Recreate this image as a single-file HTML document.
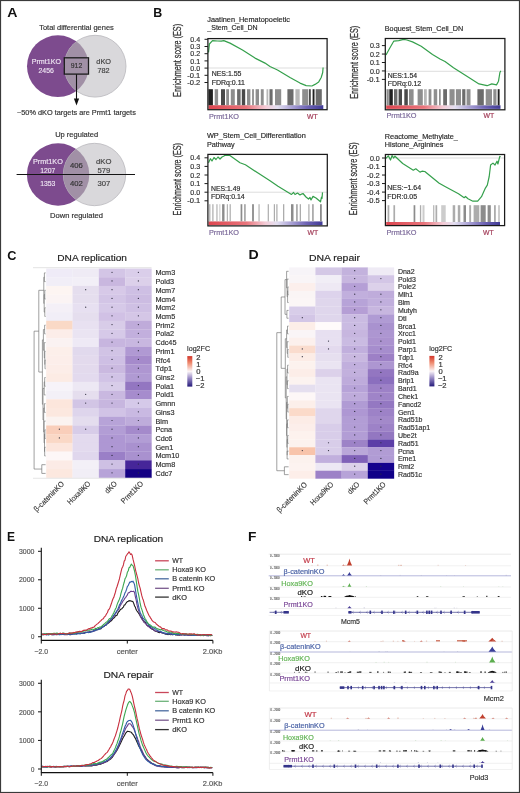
<!DOCTYPE html>
<html><head><meta charset="utf-8"><style>
html,body{margin:0;padding:0;background:#fff;}
body{width:520px;height:793px;overflow:hidden;position:relative;}
svg{position:absolute;left:0;top:0;display:block;filter:blur(0.3px);}
svg text{font-family:"Liberation Sans", sans-serif;}
</style></head><body>
<svg width="520" height="793" viewBox="0 0 520 793">
<rect x="0" y="0" width="520" height="793" fill="#ffffff"/>
<text x="7.20" y="16.50" font-size="13.3" fill="#111" font-weight="bold" textLength="10.20" lengthAdjust="spacingAndGlyphs">A</text>
<text x="153.30" y="16.80" font-size="13.3" fill="#111" font-weight="bold" textLength="9.00" lengthAdjust="spacingAndGlyphs">B</text>
<text x="7.30" y="259.50" font-size="13.3" fill="#111" font-weight="bold" textLength="9.20" lengthAdjust="spacingAndGlyphs">C</text>
<text x="248.40" y="259.40" font-size="13.3" fill="#111" font-weight="bold" textLength="10.20" lengthAdjust="spacingAndGlyphs">D</text>
<text x="7.00" y="540.80" font-size="13.3" fill="#111" font-weight="bold" textLength="8.00" lengthAdjust="spacingAndGlyphs">E</text>
<text x="248.00" y="540.80" font-size="13.3" fill="#111" font-weight="bold" textLength="8.40" lengthAdjust="spacingAndGlyphs">F</text>
<text x="39.20" y="29.80" font-size="7.8" fill="#333" textLength="74.60" lengthAdjust="spacingAndGlyphs" stroke="#333" stroke-width="0.18">Total differential genes</text>
<circle cx="57.9" cy="66.2" r="30.9" fill="#7d4b8e"/>
<circle cx="95.1" cy="66.2" r="30.9" fill="#d9d8db" stroke="#b9b8bc" stroke-width="0.8"/>
<clipPath id="c66"><circle cx="57.9" cy="66.2" r="30.9"/></clipPath>
<circle cx="95.1" cy="66.2" r="30.9" fill="#a190a6" clip-path="url(#c66)"/>
<text x="31.70" y="64.20" font-size="7.2" fill="#efe6f3" textLength="29.30" lengthAdjust="spacingAndGlyphs" stroke="#efe6f3" stroke-width="0.144">Prmt1KO</text>
<text x="38.50" y="73.00" font-size="7.2" fill="#efe6f3" textLength="15.30" lengthAdjust="spacingAndGlyphs" stroke="#efe6f3" stroke-width="0.144">2456</text>
<rect x="64.3" y="57.8" width="24.2" height="16.3" fill="none" stroke="#1c1c1c" stroke-width="1.3"/>
<text x="70.80" y="68.40" font-size="7.2" fill="#333" textLength="11.40" lengthAdjust="spacingAndGlyphs" stroke="#333" stroke-width="0.18">912</text>
<text x="96.30" y="64.20" font-size="7.2" fill="#444" textLength="14.70" lengthAdjust="spacingAndGlyphs" stroke="#444" stroke-width="0.18">dKO</text>
<text x="97.40" y="73.00" font-size="7.2" fill="#444" textLength="12.10" lengthAdjust="spacingAndGlyphs" stroke="#444" stroke-width="0.18">782</text>
<line x1="76.50" y1="74.30" x2="76.50" y2="99.50" stroke="#111" stroke-width="1.1"/>
<polygon points="73.9,98.6 79.1,98.6 76.5,105.6" fill="#111"/>
<text x="17.00" y="114.80" font-size="7.4" fill="#333" textLength="118.80" lengthAdjust="spacingAndGlyphs" stroke="#333" stroke-width="0.18">~50% dKO targets are Prmt1 targets</text>
<text x="55.20" y="137.00" font-size="7.4" fill="#333" textLength="43.00" lengthAdjust="spacingAndGlyphs" stroke="#333" stroke-width="0.18">Up regulated</text>
<circle cx="58.1" cy="174.5" r="31.2" fill="#7d4b8e"/>
<circle cx="94.5" cy="174.5" r="31.2" fill="#d9d8db" stroke="#b9b8bc" stroke-width="0.8"/>
<clipPath id="c174"><circle cx="58.1" cy="174.5" r="31.2"/></clipPath>
<circle cx="94.5" cy="174.5" r="31.2" fill="#a190a6" clip-path="url(#c174)"/>
<line x1="16.60" y1="174.50" x2="135.00" y2="174.50" stroke="#151515" stroke-width="1.15"/>
<text x="32.90" y="163.50" font-size="7.2" fill="#efe6f3" textLength="30.00" lengthAdjust="spacingAndGlyphs" stroke="#efe6f3" stroke-width="0.144">Prmt1KO</text>
<text x="40.20" y="172.60" font-size="7.2" fill="#efe6f3" textLength="15.20" lengthAdjust="spacingAndGlyphs" stroke="#efe6f3" stroke-width="0.144">1207</text>
<text x="76.30" y="167.60" font-size="7.7" fill="#333" text-anchor="middle" stroke="#333" stroke-width="0.18">406</text>
<text x="103.80" y="164.40" font-size="7.7" fill="#444" text-anchor="middle" stroke="#444" stroke-width="0.18">dKO</text>
<text x="103.80" y="172.60" font-size="7.7" fill="#444" text-anchor="middle" stroke="#444" stroke-width="0.18">579</text>
<text x="40.20" y="186.00" font-size="7.2" fill="#efe6f3" textLength="15.20" lengthAdjust="spacingAndGlyphs" stroke="#efe6f3" stroke-width="0.144">1353</text>
<text x="76.30" y="186.40" font-size="7.7" fill="#333" text-anchor="middle" stroke="#333" stroke-width="0.18">402</text>
<text x="103.80" y="186.40" font-size="7.7" fill="#444" text-anchor="middle" stroke="#444" stroke-width="0.18">307</text>
<text x="50.00" y="217.60" font-size="7.4" fill="#333" textLength="53.00" lengthAdjust="spacingAndGlyphs" stroke="#333" stroke-width="0.18">Down regulated</text>
<line x1="207.90" y1="68.00" x2="327.10" y2="68.00" stroke="#cfcfcf" stroke-width="0.7"/>
<linearGradient id="g1" x1="0" x2="1" y1="0" y2="0"><stop offset="0" stop-color="#dd4650"/><stop offset="0.33" stop-color="#e9747b"/><stop offset="0.5" stop-color="#f4ccd7"/><stop offset="0.6" stop-color="#e3dff1"/><stop offset="0.72" stop-color="#aca4d6"/><stop offset="0.86" stop-color="#6e64b4"/><stop offset="1" stop-color="#403a96"/></linearGradient>
<rect x="208.50" y="105.20" width="114.80" height="3.90" fill="url(#g1)"/>
<rect x="208.40" y="89.20" width="4.50" height="16.00" fill="#202020"/>
<rect x="214.70" y="89.20" width="3.40" height="16.00" fill="#8e8e8e"/>
<rect x="221.00" y="89.20" width="4.00" height="16.00" fill="#4a4a4a"/>
<rect x="226.20" y="89.20" width="2.80" height="16.00" fill="#8e8e8e"/>
<rect x="230.80" y="89.20" width="4.00" height="16.00" fill="#8e8e8e"/>
<rect x="237.10" y="89.20" width="3.50" height="16.00" fill="#6c6c6c"/>
<rect x="241.80" y="89.20" width="3.40" height="16.00" fill="#4a4a4a"/>
<rect x="247.00" y="89.20" width="3.40" height="16.00" fill="#8e8e8e"/>
<rect x="252.10" y="89.20" width="1.80" height="16.00" fill="#8e8e8e"/>
<rect x="255.60" y="89.20" width="3.40" height="16.00" fill="#8e8e8e"/>
<rect x="260.80" y="89.20" width="2.90" height="16.00" fill="#8e8e8e"/>
<rect x="266.50" y="89.20" width="1.80" height="16.00" fill="#b8b8b8"/>
<rect x="269.50" y="89.20" width="3.10" height="16.00" fill="#6c6c6c"/>
<rect x="275.00" y="89.20" width="6.20" height="16.00" fill="#8e8e8e"/>
<rect x="287.40" y="89.20" width="6.10" height="16.00" fill="#6c6c6c"/>
<rect x="295.40" y="89.20" width="4.30" height="16.00" fill="#b8b8b8"/>
<rect x="302.20" y="89.20" width="6.10" height="16.00" fill="#8e8e8e"/>
<rect x="309.00" y="89.20" width="1.80" height="16.00" fill="#4a4a4a"/>
<rect x="312.60" y="89.20" width="1.90" height="16.00" fill="#202020"/>
<rect x="315.70" y="89.20" width="6.10" height="16.00" fill="#6c6c6c"/>
<polyline points="208.50,52.50 209.40,44.00 212.50,40.60 217.50,41.00 221.20,41.20 223.80,40.60 230.00,43.10 242.50,50.00 255.00,58.10 265.00,63.10 270.00,66.50 277.50,70.00 290.00,77.50 300.00,83.10 306.20,85.60 311.90,86.00 315.00,84.40 318.70,81.90 321.20,77.50 322.70,72.50 323.10,67.50" fill="none" stroke="#35a04c" stroke-width="1.2" stroke-linejoin="round"/>
<rect x="207.90" y="38.60" width="119.20" height="71.10" fill="none" stroke="#1a1a1a" stroke-width="1.25"/>
<line x1="204.50" y1="39.30" x2="207.90" y2="39.30" stroke="#1a1a1a" stroke-width="1.0"/>
<text x="200.20" y="41.90" font-size="7.3" fill="#333" text-anchor="end" textLength="9.90" lengthAdjust="spacingAndGlyphs" stroke="#333" stroke-width="0.18">0.4</text>
<line x1="204.50" y1="46.50" x2="207.90" y2="46.50" stroke="#1a1a1a" stroke-width="1.0"/>
<text x="200.20" y="49.10" font-size="7.3" fill="#333" text-anchor="end" textLength="9.90" lengthAdjust="spacingAndGlyphs" stroke="#333" stroke-width="0.18">0.3</text>
<line x1="204.50" y1="53.70" x2="207.90" y2="53.70" stroke="#1a1a1a" stroke-width="1.0"/>
<text x="200.20" y="56.30" font-size="7.3" fill="#333" text-anchor="end" textLength="9.90" lengthAdjust="spacingAndGlyphs" stroke="#333" stroke-width="0.18">0.2</text>
<line x1="204.50" y1="60.90" x2="207.90" y2="60.90" stroke="#1a1a1a" stroke-width="1.0"/>
<text x="200.20" y="63.50" font-size="7.3" fill="#333" text-anchor="end" textLength="9.90" lengthAdjust="spacingAndGlyphs" stroke="#333" stroke-width="0.18">0.1</text>
<line x1="204.50" y1="68.10" x2="207.90" y2="68.10" stroke="#1a1a1a" stroke-width="1.0"/>
<text x="200.20" y="70.70" font-size="7.3" fill="#333" text-anchor="end" textLength="9.90" lengthAdjust="spacingAndGlyphs" stroke="#333" stroke-width="0.18">0.0</text>
<line x1="204.50" y1="75.30" x2="207.90" y2="75.30" stroke="#1a1a1a" stroke-width="1.0"/>
<text x="200.20" y="77.90" font-size="7.3" fill="#333" text-anchor="end" textLength="13.00" lengthAdjust="spacingAndGlyphs" stroke="#333" stroke-width="0.18">-0.1</text>
<line x1="204.50" y1="82.50" x2="207.90" y2="82.50" stroke="#1a1a1a" stroke-width="1.0"/>
<text x="200.20" y="85.10" font-size="7.3" fill="#333" text-anchor="end" textLength="13.00" lengthAdjust="spacingAndGlyphs" stroke="#333" stroke-width="0.18">-0.2</text>
<text x="207.30" y="21.90" font-size="7.5" fill="#2a2a2a" textLength="82.70" lengthAdjust="spacingAndGlyphs" stroke="#2a2a2a" stroke-width="0.18">Jaatinen_Hematopoeietic</text>
<text x="207.30" y="30.20" font-size="7.5" fill="#2a2a2a" textLength="50.40" lengthAdjust="spacingAndGlyphs" stroke="#2a2a2a" stroke-width="0.18">_Stem_Cell_DN</text>
<text x="211.70" y="76.30" font-size="7.2" fill="#2a2a2a" textLength="29.80" lengthAdjust="spacingAndGlyphs" stroke="#2a2a2a" stroke-width="0.18">NES:1.55</text>
<text x="211.70" y="84.70" font-size="7.2" fill="#2a2a2a" textLength="33.20" lengthAdjust="spacingAndGlyphs" stroke="#2a2a2a" stroke-width="0.18">FDRq:0.11</text>
<text transform="translate(180.90,60.40) rotate(-90)" x="0" y="0" font-size="10" fill="#383838" stroke="#383838" stroke-width="0.3" text-anchor="middle" textLength="73" lengthAdjust="spacingAndGlyphs">Enrichment score (ES)</text>
<text x="209.00" y="118.50" font-size="6.9" fill="#7d6b9b" textLength="30.00" lengthAdjust="spacingAndGlyphs" stroke="#7d6b9b" stroke-width="0.18">Prmt1KO</text>
<text x="307.00" y="118.50" font-size="6.9" fill="#a23c58" textLength="10.70" lengthAdjust="spacingAndGlyphs" stroke="#a23c58" stroke-width="0.18">WT</text>
<line x1="385.30" y1="71.30" x2="504.90" y2="71.30" stroke="#cfcfcf" stroke-width="0.7"/>
<linearGradient id="g2" x1="0" x2="1" y1="0" y2="0"><stop offset="0" stop-color="#dd4650"/><stop offset="0.33" stop-color="#e9747b"/><stop offset="0.5" stop-color="#f4ccd7"/><stop offset="0.6" stop-color="#e3dff1"/><stop offset="0.72" stop-color="#aca4d6"/><stop offset="0.86" stop-color="#6e64b4"/><stop offset="1" stop-color="#403a96"/></linearGradient>
<rect x="386.20" y="105.30" width="114.30" height="3.60" fill="url(#g2)"/>
<rect x="386.50" y="89.20" width="2.30" height="16.10" fill="#8e8e8e"/>
<rect x="389.30" y="89.20" width="3.50" height="16.10" fill="#202020"/>
<rect x="394.00" y="89.20" width="3.40" height="16.10" fill="#6c6c6c"/>
<rect x="398.60" y="89.20" width="3.40" height="16.10" fill="#4a4a4a"/>
<rect x="404.30" y="89.20" width="3.50" height="16.10" fill="#4a4a4a"/>
<rect x="409.00" y="89.20" width="4.60" height="16.10" fill="#8e8e8e"/>
<rect x="417.60" y="89.20" width="5.20" height="16.10" fill="#8e8e8e"/>
<rect x="424.00" y="89.20" width="2.80" height="16.10" fill="#b8b8b8"/>
<rect x="428.60" y="89.20" width="2.80" height="16.10" fill="#8e8e8e"/>
<rect x="433.70" y="89.20" width="3.50" height="16.10" fill="#8e8e8e"/>
<rect x="439.00" y="89.20" width="1.70" height="16.10" fill="#8e8e8e"/>
<rect x="443.20" y="89.20" width="3.80" height="16.10" fill="#6c6c6c"/>
<rect x="449.50" y="89.20" width="5.10" height="16.10" fill="#8e8e8e"/>
<rect x="455.90" y="89.20" width="5.10" height="16.10" fill="#8e8e8e"/>
<rect x="462.20" y="89.20" width="3.20" height="16.10" fill="#6c6c6c"/>
<rect x="466.60" y="89.20" width="3.90" height="16.10" fill="#8e8e8e"/>
<rect x="477.40" y="89.20" width="6.40" height="16.10" fill="#6c6c6c"/>
<rect x="485.70" y="89.20" width="6.30" height="16.10" fill="#8e8e8e"/>
<rect x="493.30" y="89.20" width="3.20" height="16.10" fill="#8e8e8e"/>
<rect x="497.70" y="89.20" width="1.90" height="16.10" fill="#202020"/>
<polyline points="386.00,55.00 389.40,48.70 393.70,41.20 398.70,40.60 403.70,39.40 406.90,40.00 412.50,41.90 421.20,46.20 432.50,54.40 440.00,59.00 445.00,61.50 453.50,67.80 466.90,76.30 479.00,83.90 487.10,85.70 491.80,83.90 496.50,84.90 498.50,81.20 499.90,72.50 500.80,70.90" fill="none" stroke="#35a04c" stroke-width="1.2" stroke-linejoin="round"/>
<rect x="385.30" y="38.50" width="119.60" height="71.30" fill="none" stroke="#1a1a1a" stroke-width="1.25"/>
<line x1="381.90" y1="45.60" x2="385.30" y2="45.60" stroke="#1a1a1a" stroke-width="1.0"/>
<text x="379.80" y="48.20" font-size="7.3" fill="#333" text-anchor="end" textLength="9.90" lengthAdjust="spacingAndGlyphs" stroke="#333" stroke-width="0.18">0.3</text>
<line x1="381.90" y1="54.05" x2="385.30" y2="54.05" stroke="#1a1a1a" stroke-width="1.0"/>
<text x="379.80" y="56.65" font-size="7.3" fill="#333" text-anchor="end" textLength="9.90" lengthAdjust="spacingAndGlyphs" stroke="#333" stroke-width="0.18">0.2</text>
<line x1="381.90" y1="62.50" x2="385.30" y2="62.50" stroke="#1a1a1a" stroke-width="1.0"/>
<text x="379.80" y="65.10" font-size="7.3" fill="#333" text-anchor="end" textLength="9.90" lengthAdjust="spacingAndGlyphs" stroke="#333" stroke-width="0.18">0.1</text>
<line x1="381.90" y1="70.95" x2="385.30" y2="70.95" stroke="#1a1a1a" stroke-width="1.0"/>
<text x="379.80" y="73.55" font-size="7.3" fill="#333" text-anchor="end" textLength="9.90" lengthAdjust="spacingAndGlyphs" stroke="#333" stroke-width="0.18">0.0</text>
<line x1="381.90" y1="79.40" x2="385.30" y2="79.40" stroke="#1a1a1a" stroke-width="1.0"/>
<text x="379.80" y="82.00" font-size="7.3" fill="#333" text-anchor="end" textLength="13.00" lengthAdjust="spacingAndGlyphs" stroke="#333" stroke-width="0.18">-0.1</text>
<text x="384.80" y="30.60" font-size="7.5" fill="#2a2a2a" textLength="78.30" lengthAdjust="spacingAndGlyphs" stroke="#2a2a2a" stroke-width="0.18">Boquest_Stem_Cell_DN</text>
<text x="387.70" y="77.60" font-size="7.2" fill="#2a2a2a" textLength="29.40" lengthAdjust="spacingAndGlyphs" stroke="#2a2a2a" stroke-width="0.18">NES:1.54</text>
<text x="387.70" y="85.80" font-size="7.2" fill="#2a2a2a" textLength="33.40" lengthAdjust="spacingAndGlyphs" stroke="#2a2a2a" stroke-width="0.18">FDRq:0.12</text>
<text transform="translate(358.40,62.30) rotate(-90)" x="0" y="0" font-size="10" fill="#383838" stroke="#383838" stroke-width="0.3" text-anchor="middle" textLength="73" lengthAdjust="spacingAndGlyphs">Enrichment score (ES)</text>
<text x="386.50" y="118.30" font-size="6.9" fill="#7d6b9b" textLength="30.00" lengthAdjust="spacingAndGlyphs" stroke="#7d6b9b" stroke-width="0.18">Prmt1KO</text>
<text x="483.60" y="118.30" font-size="6.9" fill="#a23c58" textLength="10.70" lengthAdjust="spacingAndGlyphs" stroke="#a23c58" stroke-width="0.18">WT</text>
<line x1="207.90" y1="192.20" x2="327.30" y2="192.20" stroke="#cfcfcf" stroke-width="0.7"/>
<linearGradient id="g3" x1="0" x2="1" y1="0" y2="0"><stop offset="0" stop-color="#dd4650"/><stop offset="0.33" stop-color="#e9747b"/><stop offset="0.5" stop-color="#f4ccd7"/><stop offset="0.6" stop-color="#e3dff1"/><stop offset="0.72" stop-color="#aca4d6"/><stop offset="0.86" stop-color="#6e64b4"/><stop offset="1" stop-color="#403a96"/></linearGradient>
<rect x="208.50" y="221.40" width="114.00" height="3.80" fill="url(#g3)"/>
<rect x="209.20" y="204.20" width="1.20" height="17.20" fill="#acacac"/>
<rect x="212.30" y="204.20" width="1.20" height="17.20" fill="#acacac"/>
<rect x="216.40" y="204.20" width="1.10" height="17.20" fill="#acacac"/>
<rect x="219.30" y="204.20" width="1.10" height="17.20" fill="#cccccc"/>
<rect x="222.10" y="204.20" width="2.40" height="17.20" fill="#8c8c8c"/>
<rect x="226.80" y="204.20" width="1.10" height="17.20" fill="#acacac"/>
<rect x="229.60" y="204.20" width="1.20" height="17.20" fill="#acacac"/>
<rect x="240.60" y="204.20" width="1.70" height="17.20" fill="#8c8c8c"/>
<rect x="244.00" y="204.20" width="1.80" height="17.20" fill="#acacac"/>
<rect x="252.10" y="204.20" width="1.80" height="17.20" fill="#8c8c8c"/>
<rect x="258.50" y="204.20" width="1.10" height="17.20" fill="#acacac"/>
<rect x="267.70" y="204.20" width="1.20" height="17.20" fill="#acacac"/>
<rect x="273.80" y="204.20" width="1.20" height="17.20" fill="#acacac"/>
<rect x="276.30" y="204.20" width="1.20" height="17.20" fill="#acacac"/>
<rect x="283.00" y="204.20" width="1.30" height="17.20" fill="#acacac"/>
<rect x="291.00" y="204.20" width="2.50" height="17.20" fill="#8c8c8c"/>
<rect x="296.00" y="204.20" width="1.80" height="17.20" fill="#acacac"/>
<rect x="299.70" y="204.20" width="1.30" height="17.20" fill="#acacac"/>
<rect x="308.30" y="204.20" width="1.20" height="17.20" fill="#acacac"/>
<rect x="312.00" y="204.20" width="1.80" height="17.20" fill="#acacac"/>
<rect x="320.00" y="204.20" width="1.80" height="17.20" fill="#8c8c8c"/>
<polyline points="208.50,162.80 210.40,158.70 212.00,161.00 214.00,157.50 216.00,159.50 218.00,157.00 220.00,159.00 222.00,157.00 224.00,156.00 225.20,155.10 229.90,155.50 240.00,162.80 245.40,164.80 258.80,173.60 270.00,180.70 278.00,186.30 291.50,194.40 293.60,192.50 295.00,194.50 297.50,193.00 300.00,195.00 301.60,194.10 303.00,193.50 306.00,197.00 308.50,199.00 310.00,197.50 311.00,200.00 313.00,196.40 316.00,198.00 320.50,201.80 321.50,197.00 322.00,198.50 322.50,192.40" fill="none" stroke="#35a04c" stroke-width="1.2" stroke-linejoin="round"/>
<rect x="207.90" y="154.40" width="119.40" height="71.50" fill="none" stroke="#1a1a1a" stroke-width="1.25"/>
<line x1="204.50" y1="157.80" x2="207.90" y2="157.80" stroke="#1a1a1a" stroke-width="1.0"/>
<text x="200.20" y="160.40" font-size="7.3" fill="#333" text-anchor="end" textLength="9.90" lengthAdjust="spacingAndGlyphs" stroke="#333" stroke-width="0.18">0.4</text>
<line x1="204.50" y1="166.40" x2="207.90" y2="166.40" stroke="#1a1a1a" stroke-width="1.0"/>
<text x="200.20" y="169.00" font-size="7.3" fill="#333" text-anchor="end" textLength="9.90" lengthAdjust="spacingAndGlyphs" stroke="#333" stroke-width="0.18">0.3</text>
<line x1="204.50" y1="175.00" x2="207.90" y2="175.00" stroke="#1a1a1a" stroke-width="1.0"/>
<text x="200.20" y="177.60" font-size="7.3" fill="#333" text-anchor="end" textLength="9.90" lengthAdjust="spacingAndGlyphs" stroke="#333" stroke-width="0.18">0.2</text>
<line x1="204.50" y1="183.60" x2="207.90" y2="183.60" stroke="#1a1a1a" stroke-width="1.0"/>
<text x="200.20" y="186.20" font-size="7.3" fill="#333" text-anchor="end" textLength="9.90" lengthAdjust="spacingAndGlyphs" stroke="#333" stroke-width="0.18">0.1</text>
<line x1="204.50" y1="192.20" x2="207.90" y2="192.20" stroke="#1a1a1a" stroke-width="1.0"/>
<text x="200.20" y="194.80" font-size="7.3" fill="#333" text-anchor="end" textLength="9.90" lengthAdjust="spacingAndGlyphs" stroke="#333" stroke-width="0.18">0.0</text>
<line x1="204.50" y1="200.80" x2="207.90" y2="200.80" stroke="#1a1a1a" stroke-width="1.0"/>
<text x="200.20" y="203.40" font-size="7.3" fill="#333" text-anchor="end" textLength="13.00" lengthAdjust="spacingAndGlyphs" stroke="#333" stroke-width="0.18">-0.1</text>
<text x="206.90" y="138.40" font-size="7.5" fill="#2a2a2a" textLength="98.90" lengthAdjust="spacingAndGlyphs" stroke="#2a2a2a" stroke-width="0.18">WP_Stem_Cell_Differentiation</text>
<text x="206.90" y="146.50" font-size="7.5" fill="#2a2a2a" textLength="27.70" lengthAdjust="spacingAndGlyphs" stroke="#2a2a2a" stroke-width="0.18">Pathway</text>
<text x="211.00" y="191.00" font-size="7.2" fill="#2a2a2a" textLength="29.30" lengthAdjust="spacingAndGlyphs" stroke="#2a2a2a" stroke-width="0.18">NES:1.49</text>
<text x="211.00" y="199.40" font-size="7.2" fill="#2a2a2a" textLength="33.70" lengthAdjust="spacingAndGlyphs" stroke="#2a2a2a" stroke-width="0.18">FDRq:0.14</text>
<text transform="translate(180.60,179.20) rotate(-90)" x="0" y="0" font-size="10" fill="#383838" stroke="#383838" stroke-width="0.3" text-anchor="middle" textLength="72.4" lengthAdjust="spacingAndGlyphs">Enrichment score (ES)</text>
<text x="209.00" y="234.80" font-size="6.9" fill="#7d6b9b" textLength="30.00" lengthAdjust="spacingAndGlyphs" stroke="#7d6b9b" stroke-width="0.18">Prmt1KO</text>
<text x="307.50" y="234.80" font-size="6.9" fill="#a23c58" textLength="10.70" lengthAdjust="spacingAndGlyphs" stroke="#a23c58" stroke-width="0.18">WT</text>
<line x1="385.40" y1="158.00" x2="504.60" y2="158.00" stroke="#cfcfcf" stroke-width="0.7"/>
<linearGradient id="g4" x1="0" x2="1" y1="0" y2="0"><stop offset="0" stop-color="#dd4650"/><stop offset="0.33" stop-color="#e9747b"/><stop offset="0.5" stop-color="#f4ccd7"/><stop offset="0.6" stop-color="#e3dff1"/><stop offset="0.72" stop-color="#aca4d6"/><stop offset="0.86" stop-color="#6e64b4"/><stop offset="1" stop-color="#403a96"/></linearGradient>
<rect x="386.20" y="222.00" width="113.80" height="3.00" fill="url(#g4)"/>
<rect x="387.60" y="205.20" width="1.70" height="16.80" fill="#acacac"/>
<rect x="393.40" y="205.20" width="1.70" height="16.80" fill="#acacac"/>
<rect x="413.60" y="205.20" width="1.70" height="16.80" fill="#8c8c8c"/>
<rect x="419.90" y="205.20" width="1.30" height="16.80" fill="#acacac"/>
<rect x="422.50" y="205.20" width="2.00" height="16.80" fill="#cccccc"/>
<rect x="433.20" y="205.20" width="1.10" height="16.80" fill="#acacac"/>
<rect x="435.50" y="205.20" width="1.70" height="16.80" fill="#acacac"/>
<rect x="441.20" y="205.20" width="4.50" height="16.80" fill="#cccccc"/>
<rect x="452.70" y="205.20" width="2.50" height="16.80" fill="#acacac"/>
<rect x="457.80" y="205.20" width="2.50" height="16.80" fill="#acacac"/>
<rect x="463.50" y="205.20" width="2.50" height="16.80" fill="#8c8c8c"/>
<rect x="469.20" y="205.20" width="1.90" height="16.80" fill="#acacac"/>
<rect x="473.60" y="205.20" width="5.70" height="16.80" fill="#acacac"/>
<rect x="480.60" y="205.20" width="5.10" height="16.80" fill="#8c8c8c"/>
<rect x="487.60" y="205.20" width="3.20" height="16.80" fill="#8c8c8c"/>
<rect x="494.00" y="205.20" width="1.80" height="16.80" fill="#acacac"/>
<rect x="498.40" y="205.20" width="1.20" height="16.80" fill="#acacac"/>
<polyline points="385.60,158.70 388.30,155.80 390.50,160.00 392.10,155.50 393.50,158.00 395.00,156.20 402.70,163.50 413.30,170.20 415.80,168.80 420.00,172.10 422.00,171.20 424.80,171.50 439.20,183.30 445.00,186.50 458.50,193.80 464.20,197.70 465.50,196.50 468.00,198.70 472.90,201.20 477.70,201.20 481.50,196.70 485.40,188.10 487.30,185.20 489.20,176.50 490.60,165.00 493.00,163.10 495.00,165.00 497.00,161.20 497.90,164.00 499.80,156.30 500.50,157.00" fill="none" stroke="#35a04c" stroke-width="1.2" stroke-linejoin="round"/>
<rect x="385.40" y="154.50" width="119.20" height="71.10" fill="none" stroke="#1a1a1a" stroke-width="1.25"/>
<line x1="382.00" y1="158.00" x2="385.40" y2="158.00" stroke="#1a1a1a" stroke-width="1.0"/>
<text x="379.80" y="160.60" font-size="7.3" fill="#333" text-anchor="end" textLength="9.90" lengthAdjust="spacingAndGlyphs" stroke="#333" stroke-width="0.18">0.0</text>
<line x1="382.00" y1="166.52" x2="385.40" y2="166.52" stroke="#1a1a1a" stroke-width="1.0"/>
<text x="379.80" y="169.12" font-size="7.3" fill="#333" text-anchor="end" textLength="13.00" lengthAdjust="spacingAndGlyphs" stroke="#333" stroke-width="0.18">-0.1</text>
<line x1="382.00" y1="175.04" x2="385.40" y2="175.04" stroke="#1a1a1a" stroke-width="1.0"/>
<text x="379.80" y="177.64" font-size="7.3" fill="#333" text-anchor="end" textLength="13.00" lengthAdjust="spacingAndGlyphs" stroke="#333" stroke-width="0.18">-0.2</text>
<line x1="382.00" y1="183.56" x2="385.40" y2="183.56" stroke="#1a1a1a" stroke-width="1.0"/>
<text x="379.80" y="186.16" font-size="7.3" fill="#333" text-anchor="end" textLength="13.00" lengthAdjust="spacingAndGlyphs" stroke="#333" stroke-width="0.18">-0.3</text>
<line x1="382.00" y1="192.08" x2="385.40" y2="192.08" stroke="#1a1a1a" stroke-width="1.0"/>
<text x="379.80" y="194.68" font-size="7.3" fill="#333" text-anchor="end" textLength="13.00" lengthAdjust="spacingAndGlyphs" stroke="#333" stroke-width="0.18">-0.4</text>
<line x1="382.00" y1="200.60" x2="385.40" y2="200.60" stroke="#1a1a1a" stroke-width="1.0"/>
<text x="379.80" y="203.20" font-size="7.3" fill="#333" text-anchor="end" textLength="13.00" lengthAdjust="spacingAndGlyphs" stroke="#333" stroke-width="0.18">-0.5</text>
<text x="384.80" y="138.60" font-size="7.5" fill="#2a2a2a" textLength="73.10" lengthAdjust="spacingAndGlyphs" stroke="#2a2a2a" stroke-width="0.18">Reactome_Methylate_</text>
<text x="384.80" y="146.80" font-size="7.5" fill="#2a2a2a" textLength="58.70" lengthAdjust="spacingAndGlyphs" stroke="#2a2a2a" stroke-width="0.18">Histone_Arginines</text>
<text x="387.30" y="190.40" font-size="7.2" fill="#2a2a2a" textLength="33.70" lengthAdjust="spacingAndGlyphs" stroke="#2a2a2a" stroke-width="0.18">NES:−1.64</text>
<text x="387.30" y="199.00" font-size="7.2" fill="#2a2a2a" textLength="29.70" lengthAdjust="spacingAndGlyphs" stroke="#2a2a2a" stroke-width="0.18">FDR:0.05</text>
<text transform="translate(357.30,178.80) rotate(-90)" x="0" y="0" font-size="10" fill="#383838" stroke="#383838" stroke-width="0.3" text-anchor="middle" textLength="73" lengthAdjust="spacingAndGlyphs">Enrichment score (ES)</text>
<text x="386.50" y="234.60" font-size="6.9" fill="#7d6b9b" textLength="30.00" lengthAdjust="spacingAndGlyphs" stroke="#7d6b9b" stroke-width="0.18">Prmt1KO</text>
<text x="483.00" y="234.60" font-size="6.9" fill="#a23c58" textLength="10.70" lengthAdjust="spacingAndGlyphs" stroke="#a23c58" stroke-width="0.18">WT</text>
<rect x="46.20" y="268.50" width="26.48" height="8.87" fill="#efebf7"/>
<rect x="46.20" y="277.22" width="26.48" height="8.87" fill="#f1eef7"/>
<rect x="46.20" y="285.94" width="26.48" height="8.87" fill="#fdf5f2"/>
<rect x="46.20" y="294.66" width="26.48" height="8.87" fill="#fbf4f4"/>
<rect x="46.20" y="303.38" width="26.48" height="8.87" fill="#f4f0f7"/>
<rect x="46.20" y="312.10" width="26.48" height="8.87" fill="#f1eef7"/>
<rect x="46.20" y="320.82" width="26.48" height="8.87" fill="#fad9c6"/>
<rect x="46.20" y="329.54" width="26.48" height="8.87" fill="#fcede9"/>
<rect x="46.20" y="338.26" width="26.48" height="8.87" fill="#faf2f2"/>
<rect x="46.20" y="346.98" width="26.48" height="8.87" fill="#fcefea"/>
<rect x="46.20" y="355.70" width="26.48" height="8.87" fill="#fceeea"/>
<rect x="46.20" y="364.42" width="26.48" height="8.87" fill="#fcede8"/>
<rect x="46.20" y="373.14" width="26.48" height="8.87" fill="#fcebe4"/>
<rect x="46.20" y="381.86" width="26.48" height="8.87" fill="#f7f3f9"/>
<rect x="46.20" y="390.58" width="26.48" height="8.87" fill="#f3f0f7"/>
<rect x="46.20" y="399.30" width="26.48" height="8.87" fill="#fce6dc"/>
<rect x="46.20" y="408.02" width="26.48" height="8.87" fill="#fce8df"/>
<rect x="46.20" y="416.74" width="26.48" height="8.87" fill="#fbf3f0"/>
<rect x="46.20" y="425.46" width="26.48" height="8.87" fill="#f9ceba"/>
<rect x="46.20" y="434.18" width="26.48" height="8.87" fill="#fad8c6"/>
<rect x="46.20" y="442.90" width="26.48" height="8.87" fill="#fce6dd"/>
<rect x="46.20" y="451.62" width="26.48" height="8.87" fill="#fdf7f7"/>
<rect x="46.20" y="460.34" width="26.48" height="8.87" fill="#fcebe6"/>
<rect x="46.20" y="469.06" width="26.48" height="8.87" fill="#fce8df"/>
<rect x="72.53" y="268.50" width="26.48" height="8.87" fill="#efebf5"/>
<rect x="72.53" y="277.22" width="26.48" height="8.87" fill="#f2eff7"/>
<rect x="72.53" y="285.94" width="26.48" height="8.87" fill="#e5deee"/>
<rect x="72.53" y="294.66" width="26.48" height="8.87" fill="#e5deee"/>
<rect x="72.53" y="303.38" width="26.48" height="8.87" fill="#e7e0f1"/>
<rect x="72.53" y="312.10" width="26.48" height="8.87" fill="#e5deee"/>
<rect x="72.53" y="320.82" width="26.48" height="8.87" fill="#e8e1f1"/>
<rect x="72.53" y="329.54" width="26.48" height="8.87" fill="#eae4f2"/>
<rect x="72.53" y="338.26" width="26.48" height="8.87" fill="#eee9f5"/>
<rect x="72.53" y="346.98" width="26.48" height="8.87" fill="#e1d9ed"/>
<rect x="72.53" y="355.70" width="26.48" height="8.87" fill="#e3daed"/>
<rect x="72.53" y="364.42" width="26.48" height="8.87" fill="#e3daed"/>
<rect x="72.53" y="373.14" width="26.48" height="8.87" fill="#e3daee"/>
<rect x="72.53" y="381.86" width="26.48" height="8.87" fill="#ede8f4"/>
<rect x="72.53" y="390.58" width="26.48" height="8.87" fill="#e5deee"/>
<rect x="72.53" y="399.30" width="26.48" height="8.87" fill="#d2c5e5"/>
<rect x="72.53" y="408.02" width="26.48" height="8.87" fill="#ded5ec"/>
<rect x="72.53" y="416.74" width="26.48" height="8.87" fill="#e4ddee"/>
<rect x="72.53" y="425.46" width="26.48" height="8.87" fill="#d7cce8"/>
<rect x="72.53" y="434.18" width="26.48" height="8.87" fill="#e3daee"/>
<rect x="72.53" y="442.90" width="26.48" height="8.87" fill="#e3daee"/>
<rect x="72.53" y="451.62" width="26.48" height="8.87" fill="#e0d7ed"/>
<rect x="72.53" y="460.34" width="26.48" height="8.87" fill="#f3f0f7"/>
<rect x="72.53" y="469.06" width="26.48" height="8.87" fill="#f1eef6"/>
<rect x="98.86" y="268.50" width="26.48" height="8.87" fill="#d3c5e6"/>
<rect x="98.86" y="277.22" width="26.48" height="8.87" fill="#c9b7df"/>
<rect x="98.86" y="285.94" width="26.48" height="8.87" fill="#d7c9e8"/>
<rect x="98.86" y="294.66" width="26.48" height="8.87" fill="#d3c5e6"/>
<rect x="98.86" y="303.38" width="26.48" height="8.87" fill="#d6c9e8"/>
<rect x="98.86" y="312.10" width="26.48" height="8.87" fill="#d1c1e5"/>
<rect x="98.86" y="320.82" width="26.48" height="8.87" fill="#d8cce8"/>
<rect x="98.86" y="329.54" width="26.48" height="8.87" fill="#d6c9e8"/>
<rect x="98.86" y="338.26" width="26.48" height="8.87" fill="#c7b5df"/>
<rect x="98.86" y="346.98" width="26.48" height="8.87" fill="#d1c3e5"/>
<rect x="98.86" y="355.70" width="26.48" height="8.87" fill="#cebfe4"/>
<rect x="98.86" y="364.42" width="26.48" height="8.87" fill="#cab9e0"/>
<rect x="98.86" y="373.14" width="26.48" height="8.87" fill="#d1c3e6"/>
<rect x="98.86" y="381.86" width="26.48" height="8.87" fill="#d8cde9"/>
<rect x="98.86" y="390.58" width="26.48" height="8.87" fill="#c9b8e0"/>
<rect x="98.86" y="399.30" width="26.48" height="8.87" fill="#c7b6df"/>
<rect x="98.86" y="408.02" width="26.48" height="8.87" fill="#d1c3e6"/>
<rect x="98.86" y="416.74" width="26.48" height="8.87" fill="#b7a3d8"/>
<rect x="98.86" y="425.46" width="26.48" height="8.87" fill="#b29dd5"/>
<rect x="98.86" y="434.18" width="26.48" height="8.87" fill="#ae97d3"/>
<rect x="98.86" y="442.90" width="26.48" height="8.87" fill="#ae97d3"/>
<rect x="98.86" y="451.62" width="26.48" height="8.87" fill="#9a7fc7"/>
<rect x="98.86" y="460.34" width="26.48" height="8.87" fill="#cec0e4"/>
<rect x="98.86" y="469.06" width="26.48" height="8.87" fill="#b7a3d8"/>
<rect x="125.19" y="268.50" width="26.48" height="8.87" fill="#daceea"/>
<rect x="125.19" y="277.22" width="26.48" height="8.87" fill="#dcd0ea"/>
<rect x="125.19" y="285.94" width="26.48" height="8.87" fill="#cebfe4"/>
<rect x="125.19" y="294.66" width="26.48" height="8.87" fill="#ccbce2"/>
<rect x="125.19" y="303.38" width="26.48" height="8.87" fill="#cfc0e4"/>
<rect x="125.19" y="312.10" width="26.48" height="8.87" fill="#d4c6e6"/>
<rect x="125.19" y="320.82" width="26.48" height="8.87" fill="#bfabda"/>
<rect x="125.19" y="329.54" width="26.48" height="8.87" fill="#c2afdd"/>
<rect x="125.19" y="338.26" width="26.48" height="8.87" fill="#c8b7e0"/>
<rect x="125.19" y="346.98" width="26.48" height="8.87" fill="#b099d3"/>
<rect x="125.19" y="355.70" width="26.48" height="8.87" fill="#a58acb"/>
<rect x="125.19" y="364.42" width="26.48" height="8.87" fill="#ae96d1"/>
<rect x="125.19" y="373.14" width="26.48" height="8.87" fill="#b09ad3"/>
<rect x="125.19" y="381.86" width="26.48" height="8.87" fill="#9376c1"/>
<rect x="125.19" y="390.58" width="26.48" height="8.87" fill="#a68ccd"/>
<rect x="125.19" y="399.30" width="26.48" height="8.87" fill="#d5c9e9"/>
<rect x="125.19" y="408.02" width="26.48" height="8.87" fill="#c9b9e2"/>
<rect x="125.19" y="416.74" width="26.48" height="8.87" fill="#beacdb"/>
<rect x="125.19" y="425.46" width="26.48" height="8.87" fill="#a48acb"/>
<rect x="125.19" y="434.18" width="26.48" height="8.87" fill="#b29dd5"/>
<rect x="125.19" y="442.90" width="26.48" height="8.87" fill="#a991cf"/>
<rect x="125.19" y="451.62" width="26.48" height="8.87" fill="#a991cf"/>
<rect x="125.19" y="460.34" width="26.48" height="8.87" fill="#462699"/>
<rect x="125.19" y="469.06" width="26.48" height="8.87" fill="#140083"/>
<circle cx="59.37" cy="429.22" r="0.62" fill="#2a2a3a"/>
<circle cx="59.37" cy="437.94" r="0.62" fill="#2a2a3a"/>
<circle cx="85.69" cy="289.70" r="0.62" fill="#2a2a3a"/>
<circle cx="85.69" cy="307.14" r="0.62" fill="#2a2a3a"/>
<circle cx="85.69" cy="394.34" r="0.62" fill="#2a2a3a"/>
<circle cx="85.69" cy="403.06" r="0.62" fill="#2a2a3a"/>
<circle cx="85.69" cy="429.22" r="0.62" fill="#2a2a3a"/>
<circle cx="112.02" cy="272.26" r="0.62" fill="#2a2a3a"/>
<circle cx="112.02" cy="280.98" r="0.62" fill="#2a2a3a"/>
<circle cx="112.02" cy="289.70" r="0.62" fill="#2a2a3a"/>
<circle cx="112.02" cy="298.42" r="0.62" fill="#2a2a3a"/>
<circle cx="112.02" cy="307.14" r="0.62" fill="#2a2a3a"/>
<circle cx="112.02" cy="315.86" r="0.62" fill="#2a2a3a"/>
<circle cx="112.02" cy="324.58" r="0.62" fill="#2a2a3a"/>
<circle cx="112.02" cy="333.30" r="0.62" fill="#2a2a3a"/>
<circle cx="112.02" cy="342.02" r="0.62" fill="#2a2a3a"/>
<circle cx="112.02" cy="350.74" r="0.62" fill="#2a2a3a"/>
<circle cx="112.02" cy="359.46" r="0.62" fill="#2a2a3a"/>
<circle cx="112.02" cy="368.18" r="0.62" fill="#2a2a3a"/>
<circle cx="112.02" cy="376.90" r="0.62" fill="#2a2a3a"/>
<circle cx="112.02" cy="385.62" r="0.62" fill="#2a2a3a"/>
<circle cx="112.02" cy="394.34" r="0.62" fill="#2a2a3a"/>
<circle cx="112.02" cy="403.06" r="0.62" fill="#2a2a3a"/>
<circle cx="112.02" cy="420.50" r="0.62" fill="#2a2a3a"/>
<circle cx="112.02" cy="429.22" r="0.62" fill="#2a2a3a"/>
<circle cx="112.02" cy="437.94" r="0.62" fill="#2a2a3a"/>
<circle cx="112.02" cy="446.66" r="0.62" fill="#2a2a3a"/>
<circle cx="112.02" cy="455.38" r="0.62" fill="#2a2a3a"/>
<circle cx="112.02" cy="464.10" r="0.62" fill="#2a2a3a"/>
<circle cx="112.02" cy="472.82" r="0.62" fill="#2a2a3a"/>
<circle cx="138.36" cy="272.26" r="0.62" fill="#2a2a3a"/>
<circle cx="138.36" cy="280.98" r="0.62" fill="#2a2a3a"/>
<circle cx="138.36" cy="289.70" r="0.62" fill="#2a2a3a"/>
<circle cx="138.36" cy="298.42" r="0.62" fill="#2a2a3a"/>
<circle cx="138.36" cy="307.14" r="0.62" fill="#2a2a3a"/>
<circle cx="138.36" cy="315.86" r="0.62" fill="#2a2a3a"/>
<circle cx="138.36" cy="324.58" r="0.62" fill="#2a2a3a"/>
<circle cx="138.36" cy="333.30" r="0.62" fill="#2a2a3a"/>
<circle cx="138.36" cy="342.02" r="0.62" fill="#2a2a3a"/>
<circle cx="138.36" cy="350.74" r="0.62" fill="#2a2a3a"/>
<circle cx="138.36" cy="359.46" r="0.62" fill="#2a2a3a"/>
<circle cx="138.36" cy="368.18" r="0.62" fill="#2a2a3a"/>
<circle cx="138.36" cy="376.90" r="0.62" fill="#2a2a3a"/>
<circle cx="138.36" cy="385.62" r="0.62" fill="#2a2a3a"/>
<circle cx="138.36" cy="394.34" r="0.62" fill="#2a2a3a"/>
<circle cx="138.36" cy="403.06" r="0.62" fill="#2a2a3a"/>
<circle cx="138.36" cy="411.78" r="0.62" fill="#2a2a3a"/>
<circle cx="138.36" cy="420.50" r="0.62" fill="#2a2a3a"/>
<circle cx="138.36" cy="429.22" r="0.62" fill="#2a2a3a"/>
<circle cx="138.36" cy="437.94" r="0.62" fill="#2a2a3a"/>
<circle cx="138.36" cy="446.66" r="0.62" fill="#2a2a3a"/>
<circle cx="138.36" cy="455.38" r="0.62" fill="#2a2a3a"/>
<circle cx="138.36" cy="464.10" r="0.62" fill="#2a2a3a"/>
<circle cx="138.36" cy="472.82" r="0.62" fill="#2a2a3a"/>
<text x="155.40" y="275.36" font-size="7.3" fill="#333" stroke="#333" stroke-width="0.18">Mcm3</text>
<text x="155.40" y="284.08" font-size="7.3" fill="#333" stroke="#333" stroke-width="0.18">Pold3</text>
<text x="155.40" y="292.80" font-size="7.3" fill="#333" stroke="#333" stroke-width="0.18">Mcm7</text>
<text x="155.40" y="301.52" font-size="7.3" fill="#333" stroke="#333" stroke-width="0.18">Mcm4</text>
<text x="155.40" y="310.24" font-size="7.3" fill="#333" stroke="#333" stroke-width="0.18">Mcm2</text>
<text x="155.40" y="318.96" font-size="7.3" fill="#333" stroke="#333" stroke-width="0.18">Mcm5</text>
<text x="155.40" y="327.68" font-size="7.3" fill="#333" stroke="#333" stroke-width="0.18">Prim2</text>
<text x="155.40" y="336.40" font-size="7.3" fill="#333" stroke="#333" stroke-width="0.18">Pola2</text>
<text x="155.40" y="345.12" font-size="7.3" fill="#333" stroke="#333" stroke-width="0.18">Cdc45</text>
<text x="155.40" y="353.84" font-size="7.3" fill="#333" stroke="#333" stroke-width="0.18">Prim1</text>
<text x="155.40" y="362.56" font-size="7.3" fill="#333" stroke="#333" stroke-width="0.18">Rfc4</text>
<text x="155.40" y="371.28" font-size="7.3" fill="#333" stroke="#333" stroke-width="0.18">Tdp1</text>
<text x="155.40" y="380.00" font-size="7.3" fill="#333" stroke="#333" stroke-width="0.18">Gins2</text>
<text x="155.40" y="388.72" font-size="7.3" fill="#333" stroke="#333" stroke-width="0.18">Pola1</text>
<text x="155.40" y="397.44" font-size="7.3" fill="#333" stroke="#333" stroke-width="0.18">Pold1</text>
<text x="155.40" y="406.16" font-size="7.3" fill="#333" stroke="#333" stroke-width="0.18">Gmnn</text>
<text x="155.40" y="414.88" font-size="7.3" fill="#333" stroke="#333" stroke-width="0.18">Gins3</text>
<text x="155.40" y="423.60" font-size="7.3" fill="#333" stroke="#333" stroke-width="0.18">Blm</text>
<text x="155.40" y="432.32" font-size="7.3" fill="#333" stroke="#333" stroke-width="0.18">Pcna</text>
<text x="155.40" y="441.04" font-size="7.3" fill="#333" stroke="#333" stroke-width="0.18">Cdc6</text>
<text x="155.40" y="449.76" font-size="7.3" fill="#333" stroke="#333" stroke-width="0.18">Gen1</text>
<text x="155.40" y="458.48" font-size="7.3" fill="#333" stroke="#333" stroke-width="0.18">Mcm10</text>
<text x="155.40" y="467.20" font-size="7.3" fill="#333" stroke="#333" stroke-width="0.18">Mcm8</text>
<text x="155.40" y="475.92" font-size="7.3" fill="#333" stroke="#333" stroke-width="0.18">Cdc7</text>
<text x="57.30" y="261.00" font-size="9.9" fill="#222" textLength="69.70" lengthAdjust="spacingAndGlyphs" stroke="#222" stroke-width="0.18">DNA replication</text>
<line x1="33.00" y1="267.70" x2="151.52" y2="267.70" stroke="#e3e3e3" stroke-width="1.0"/>
<line x1="33.00" y1="478.28" x2="151.52" y2="478.28" stroke="#e6e6e6" stroke-width="1.0"/>
<text transform="translate(64.77,484.28) rotate(-45)" x="0" y="0" font-size="7.7" fill="#333" stroke="#333" stroke-width="0.12" text-anchor="end" textLength="39.5" lengthAdjust="spacingAndGlyphs">β-cateninKO</text>
<text transform="translate(91.09,484.28) rotate(-45)" x="0" y="0" font-size="7.7" fill="#333" stroke="#333" stroke-width="0.12" text-anchor="end" textLength="29.3" lengthAdjust="spacingAndGlyphs">Hoxa9KO</text>
<text transform="translate(117.42,484.28) rotate(-45)" x="0" y="0" font-size="7.7" fill="#333" stroke="#333" stroke-width="0.12" text-anchor="end" textLength="13.6" lengthAdjust="spacingAndGlyphs">dKO</text>
<text transform="translate(143.76,484.28) rotate(-45)" x="0" y="0" font-size="7.7" fill="#333" stroke="#333" stroke-width="0.12" text-anchor="end" textLength="27.8" lengthAdjust="spacingAndGlyphs">Prmt1KO</text>
<rect x="289.20" y="267.40" width="26.35" height="7.97" fill="#f7f4f8"/>
<rect x="289.20" y="275.22" width="26.35" height="7.97" fill="#f9f5f7"/>
<rect x="289.20" y="283.04" width="26.35" height="7.97" fill="#fcefec"/>
<rect x="289.20" y="290.86" width="26.35" height="7.97" fill="#faf5f5"/>
<rect x="289.20" y="298.68" width="26.35" height="7.97" fill="#fbf6f6"/>
<rect x="289.20" y="306.50" width="26.35" height="7.97" fill="#d8cde9"/>
<rect x="289.20" y="314.32" width="26.35" height="7.97" fill="#d3c6e6"/>
<rect x="289.20" y="322.14" width="26.35" height="7.97" fill="#fdeee8"/>
<rect x="289.20" y="329.96" width="26.35" height="7.97" fill="#faf5f7"/>
<rect x="289.20" y="337.78" width="26.35" height="7.97" fill="#fcf0ed"/>
<rect x="289.20" y="345.60" width="26.35" height="7.97" fill="#fadcce"/>
<rect x="289.20" y="353.42" width="26.35" height="7.97" fill="#fcece6"/>
<rect x="289.20" y="361.24" width="26.35" height="7.97" fill="#fcf2ee"/>
<rect x="289.20" y="369.06" width="26.35" height="7.97" fill="#fcede8"/>
<rect x="289.20" y="376.88" width="26.35" height="7.97" fill="#fcf3f0"/>
<rect x="289.20" y="384.70" width="26.35" height="7.97" fill="#e5dfef"/>
<rect x="289.20" y="392.52" width="26.35" height="7.97" fill="#fdf7f7"/>
<rect x="289.20" y="400.34" width="26.35" height="7.97" fill="#fcefea"/>
<rect x="289.20" y="408.16" width="26.35" height="7.97" fill="#fbdac9"/>
<rect x="289.20" y="415.98" width="26.35" height="7.97" fill="#fcece6"/>
<rect x="289.20" y="423.80" width="26.35" height="7.97" fill="#fceeea"/>
<rect x="289.20" y="431.62" width="26.35" height="7.97" fill="#fdf2ee"/>
<rect x="289.20" y="439.44" width="26.35" height="7.97" fill="#fcf2ee"/>
<rect x="289.20" y="447.26" width="26.35" height="7.97" fill="#f8c4ab"/>
<rect x="289.20" y="455.08" width="26.35" height="7.97" fill="#fcf2ee"/>
<rect x="289.20" y="462.90" width="26.35" height="7.97" fill="#fdf3f0"/>
<rect x="289.20" y="470.72" width="26.35" height="7.97" fill="#fdeee9"/>
<rect x="315.40" y="267.40" width="26.35" height="7.97" fill="#d4c8e6"/>
<rect x="315.40" y="275.22" width="26.35" height="7.97" fill="#f1eef6"/>
<rect x="315.40" y="283.04" width="26.35" height="7.97" fill="#eee9f4"/>
<rect x="315.40" y="290.86" width="26.35" height="7.97" fill="#ddd3ec"/>
<rect x="315.40" y="298.68" width="26.35" height="7.97" fill="#dfd6ec"/>
<rect x="315.40" y="306.50" width="26.35" height="7.97" fill="#dfd6ec"/>
<rect x="315.40" y="314.32" width="26.35" height="7.97" fill="#dfd6ec"/>
<rect x="315.40" y="322.14" width="26.35" height="7.97" fill="#fffbfb"/>
<rect x="315.40" y="329.96" width="26.35" height="7.97" fill="#e7e0f1"/>
<rect x="315.40" y="337.78" width="26.35" height="7.97" fill="#e7e0f1"/>
<rect x="315.40" y="345.60" width="26.35" height="7.97" fill="#e3daee"/>
<rect x="315.40" y="353.42" width="26.35" height="7.97" fill="#e6dfef"/>
<rect x="315.40" y="361.24" width="26.35" height="7.97" fill="#eae4f2"/>
<rect x="315.40" y="369.06" width="26.35" height="7.97" fill="#dcd1ea"/>
<rect x="315.40" y="376.88" width="26.35" height="7.97" fill="#eae4f2"/>
<rect x="315.40" y="384.70" width="26.35" height="7.97" fill="#eae4f2"/>
<rect x="315.40" y="392.52" width="26.35" height="7.97" fill="#eae4f2"/>
<rect x="315.40" y="400.34" width="26.35" height="7.97" fill="#eae4f2"/>
<rect x="315.40" y="408.16" width="26.35" height="7.97" fill="#dfd6ec"/>
<rect x="315.40" y="415.98" width="26.35" height="7.97" fill="#dfd6ec"/>
<rect x="315.40" y="423.80" width="26.35" height="7.97" fill="#d8cde9"/>
<rect x="315.40" y="431.62" width="26.35" height="7.97" fill="#d8cde9"/>
<rect x="315.40" y="439.44" width="26.35" height="7.97" fill="#d8cde9"/>
<rect x="315.40" y="447.26" width="26.35" height="7.97" fill="#d8cde9"/>
<rect x="315.40" y="455.08" width="26.35" height="7.97" fill="#c1afdd"/>
<rect x="315.40" y="462.90" width="26.35" height="7.97" fill="#ede8f4"/>
<rect x="315.40" y="470.72" width="26.35" height="7.97" fill="#9d81c7"/>
<rect x="341.60" y="267.40" width="26.35" height="7.97" fill="#c3b2dd"/>
<rect x="341.60" y="275.22" width="26.35" height="7.97" fill="#c7b6df"/>
<rect x="341.60" y="283.04" width="26.35" height="7.97" fill="#b59fd6"/>
<rect x="341.60" y="290.86" width="26.35" height="7.97" fill="#c1afdd"/>
<rect x="341.60" y="298.68" width="26.35" height="7.97" fill="#b7a3d8"/>
<rect x="341.60" y="306.50" width="26.35" height="7.97" fill="#b59ed5"/>
<rect x="341.60" y="314.32" width="26.35" height="7.97" fill="#cabbe2"/>
<rect x="341.60" y="322.14" width="26.35" height="7.97" fill="#cabbe2"/>
<rect x="341.60" y="329.96" width="26.35" height="7.97" fill="#c7b6df"/>
<rect x="341.60" y="337.78" width="26.35" height="7.97" fill="#cabbe2"/>
<rect x="341.60" y="345.60" width="26.35" height="7.97" fill="#c1afdd"/>
<rect x="341.60" y="353.42" width="26.35" height="7.97" fill="#c9b8e0"/>
<rect x="341.60" y="361.24" width="26.35" height="7.97" fill="#c1afdd"/>
<rect x="341.60" y="369.06" width="26.35" height="7.97" fill="#c2b0dd"/>
<rect x="341.60" y="376.88" width="26.35" height="7.97" fill="#beabdb"/>
<rect x="341.60" y="384.70" width="26.35" height="7.97" fill="#b7a3d8"/>
<rect x="341.60" y="392.52" width="26.35" height="7.97" fill="#beabdb"/>
<rect x="341.60" y="400.34" width="26.35" height="7.97" fill="#b09bd4"/>
<rect x="341.60" y="408.16" width="26.35" height="7.97" fill="#ae97d3"/>
<rect x="341.60" y="415.98" width="26.35" height="7.97" fill="#b29dd5"/>
<rect x="341.60" y="423.80" width="26.35" height="7.97" fill="#b29dd5"/>
<rect x="341.60" y="431.62" width="26.35" height="7.97" fill="#b29dd5"/>
<rect x="341.60" y="439.44" width="26.35" height="7.97" fill="#9d83c7"/>
<rect x="341.60" y="447.26" width="26.35" height="7.97" fill="#baa7d9"/>
<rect x="341.60" y="455.08" width="26.35" height="7.97" fill="#8061b8"/>
<rect x="341.60" y="462.90" width="26.35" height="7.97" fill="#dcd1ea"/>
<rect x="341.60" y="470.72" width="26.35" height="7.97" fill="#b7a3d8"/>
<rect x="367.80" y="267.40" width="26.35" height="7.97" fill="#efebf5"/>
<rect x="367.80" y="275.22" width="26.35" height="7.97" fill="#d3c6e6"/>
<rect x="367.80" y="283.04" width="26.35" height="7.97" fill="#dcd1ea"/>
<rect x="367.80" y="290.86" width="26.35" height="7.97" fill="#bfacdb"/>
<rect x="367.80" y="298.68" width="26.35" height="7.97" fill="#c1afdd"/>
<rect x="367.80" y="306.50" width="26.35" height="7.97" fill="#c7b6df"/>
<rect x="367.80" y="314.32" width="26.35" height="7.97" fill="#b09bd4"/>
<rect x="367.80" y="322.14" width="26.35" height="7.97" fill="#a992cf"/>
<rect x="367.80" y="329.96" width="26.35" height="7.97" fill="#ad96d1"/>
<rect x="367.80" y="337.78" width="26.35" height="7.97" fill="#ab92cf"/>
<rect x="367.80" y="345.60" width="26.35" height="7.97" fill="#a68dcd"/>
<rect x="367.80" y="353.42" width="26.35" height="7.97" fill="#9d80c6"/>
<rect x="367.80" y="361.24" width="26.35" height="7.97" fill="#ad96d1"/>
<rect x="367.80" y="369.06" width="26.35" height="7.97" fill="#9376c1"/>
<rect x="367.80" y="376.88" width="26.35" height="7.97" fill="#8b6fbe"/>
<rect x="367.80" y="384.70" width="26.35" height="7.97" fill="#9d81c7"/>
<rect x="367.80" y="392.52" width="26.35" height="7.97" fill="#9f84c8"/>
<rect x="367.80" y="400.34" width="26.35" height="7.97" fill="#9478c2"/>
<rect x="367.80" y="408.16" width="26.35" height="7.97" fill="#9d82c7"/>
<rect x="367.80" y="415.98" width="26.35" height="7.97" fill="#a389ca"/>
<rect x="367.80" y="423.80" width="26.35" height="7.97" fill="#9d82c7"/>
<rect x="367.80" y="431.62" width="26.35" height="7.97" fill="#9377c1"/>
<rect x="367.80" y="439.44" width="26.35" height="7.97" fill="#5c3ea7"/>
<rect x="367.80" y="447.26" width="26.35" height="7.97" fill="#b19cd4"/>
<rect x="367.80" y="455.08" width="26.35" height="7.97" fill="#b09bd4"/>
<rect x="367.80" y="462.90" width="26.35" height="7.97" fill="#14018d"/>
<rect x="367.80" y="470.72" width="26.35" height="7.97" fill="#100088"/>
<circle cx="302.30" cy="317.63" r="0.62" fill="#2a2a3a"/>
<circle cx="302.30" cy="348.91" r="0.62" fill="#2a2a3a"/>
<circle cx="302.30" cy="356.73" r="0.62" fill="#2a2a3a"/>
<circle cx="302.30" cy="450.57" r="0.62" fill="#2a2a3a"/>
<circle cx="328.50" cy="341.09" r="0.62" fill="#2a2a3a"/>
<circle cx="328.50" cy="348.91" r="0.62" fill="#2a2a3a"/>
<circle cx="328.50" cy="442.75" r="0.62" fill="#2a2a3a"/>
<circle cx="328.50" cy="450.57" r="0.62" fill="#2a2a3a"/>
<circle cx="354.70" cy="270.71" r="0.62" fill="#2a2a3a"/>
<circle cx="354.70" cy="278.53" r="0.62" fill="#2a2a3a"/>
<circle cx="354.70" cy="286.35" r="0.62" fill="#2a2a3a"/>
<circle cx="354.70" cy="294.17" r="0.62" fill="#2a2a3a"/>
<circle cx="354.70" cy="301.99" r="0.62" fill="#2a2a3a"/>
<circle cx="354.70" cy="309.81" r="0.62" fill="#2a2a3a"/>
<circle cx="354.70" cy="317.63" r="0.62" fill="#2a2a3a"/>
<circle cx="354.70" cy="325.45" r="0.62" fill="#2a2a3a"/>
<circle cx="354.70" cy="333.27" r="0.62" fill="#2a2a3a"/>
<circle cx="354.70" cy="341.09" r="0.62" fill="#2a2a3a"/>
<circle cx="354.70" cy="348.91" r="0.62" fill="#2a2a3a"/>
<circle cx="354.70" cy="356.73" r="0.62" fill="#2a2a3a"/>
<circle cx="354.70" cy="364.55" r="0.62" fill="#2a2a3a"/>
<circle cx="354.70" cy="372.37" r="0.62" fill="#2a2a3a"/>
<circle cx="354.70" cy="380.19" r="0.62" fill="#2a2a3a"/>
<circle cx="354.70" cy="388.01" r="0.62" fill="#2a2a3a"/>
<circle cx="354.70" cy="395.83" r="0.62" fill="#2a2a3a"/>
<circle cx="354.70" cy="403.65" r="0.62" fill="#2a2a3a"/>
<circle cx="354.70" cy="411.47" r="0.62" fill="#2a2a3a"/>
<circle cx="354.70" cy="419.29" r="0.62" fill="#2a2a3a"/>
<circle cx="354.70" cy="427.11" r="0.62" fill="#2a2a3a"/>
<circle cx="354.70" cy="434.93" r="0.62" fill="#2a2a3a"/>
<circle cx="354.70" cy="442.75" r="0.62" fill="#2a2a3a"/>
<circle cx="354.70" cy="450.57" r="0.62" fill="#2a2a3a"/>
<circle cx="354.70" cy="458.39" r="0.62" fill="#2a2a3a"/>
<circle cx="354.70" cy="466.21" r="0.62" fill="#2a2a3a"/>
<circle cx="354.70" cy="474.03" r="0.62" fill="#2a2a3a"/>
<circle cx="380.90" cy="278.53" r="0.62" fill="#2a2a3a"/>
<circle cx="380.90" cy="294.17" r="0.62" fill="#2a2a3a"/>
<circle cx="380.90" cy="301.99" r="0.62" fill="#2a2a3a"/>
<circle cx="380.90" cy="309.81" r="0.62" fill="#2a2a3a"/>
<circle cx="380.90" cy="317.63" r="0.62" fill="#2a2a3a"/>
<circle cx="380.90" cy="325.45" r="0.62" fill="#2a2a3a"/>
<circle cx="380.90" cy="333.27" r="0.62" fill="#2a2a3a"/>
<circle cx="380.90" cy="341.09" r="0.62" fill="#2a2a3a"/>
<circle cx="380.90" cy="348.91" r="0.62" fill="#2a2a3a"/>
<circle cx="380.90" cy="356.73" r="0.62" fill="#2a2a3a"/>
<circle cx="380.90" cy="364.55" r="0.62" fill="#2a2a3a"/>
<circle cx="380.90" cy="372.37" r="0.62" fill="#2a2a3a"/>
<circle cx="380.90" cy="380.19" r="0.62" fill="#2a2a3a"/>
<circle cx="380.90" cy="388.01" r="0.62" fill="#2a2a3a"/>
<circle cx="380.90" cy="395.83" r="0.62" fill="#2a2a3a"/>
<circle cx="380.90" cy="403.65" r="0.62" fill="#2a2a3a"/>
<circle cx="380.90" cy="411.47" r="0.62" fill="#2a2a3a"/>
<circle cx="380.90" cy="419.29" r="0.62" fill="#2a2a3a"/>
<circle cx="380.90" cy="427.11" r="0.62" fill="#2a2a3a"/>
<circle cx="380.90" cy="434.93" r="0.62" fill="#2a2a3a"/>
<circle cx="380.90" cy="442.75" r="0.62" fill="#2a2a3a"/>
<circle cx="380.90" cy="450.57" r="0.62" fill="#2a2a3a"/>
<circle cx="380.90" cy="458.39" r="0.62" fill="#2a2a3a"/>
<circle cx="380.90" cy="466.21" r="0.62" fill="#2a2a3a"/>
<circle cx="380.90" cy="474.03" r="0.62" fill="#2a2a3a"/>
<text x="397.90" y="273.81" font-size="7.0" fill="#333" stroke="#333" stroke-width="0.18">Dna2</text>
<text x="397.90" y="281.63" font-size="7.0" fill="#333" stroke="#333" stroke-width="0.18">Pold3</text>
<text x="397.90" y="289.45" font-size="7.0" fill="#333" stroke="#333" stroke-width="0.18">Pole2</text>
<text x="397.90" y="297.27" font-size="7.0" fill="#333" stroke="#333" stroke-width="0.18">Mlh1</text>
<text x="397.90" y="305.09" font-size="7.0" fill="#333" stroke="#333" stroke-width="0.18">Blm</text>
<text x="397.90" y="312.91" font-size="7.0" fill="#333" stroke="#333" stroke-width="0.18">Mutyh</text>
<text x="397.90" y="320.73" font-size="7.0" fill="#333" stroke="#333" stroke-width="0.18">Dtl</text>
<text x="397.90" y="328.55" font-size="7.0" fill="#333" stroke="#333" stroke-width="0.18">Brca1</text>
<text x="397.90" y="336.37" font-size="7.0" fill="#333" stroke="#333" stroke-width="0.18">Xrcc1</text>
<text x="397.90" y="344.19" font-size="7.0" fill="#333" stroke="#333" stroke-width="0.18">Pold1</text>
<text x="397.90" y="352.01" font-size="7.0" fill="#333" stroke="#333" stroke-width="0.18">Parp1</text>
<text x="397.90" y="359.83" font-size="7.0" fill="#333" stroke="#333" stroke-width="0.18">Tdp1</text>
<text x="397.90" y="367.65" font-size="7.0" fill="#333" stroke="#333" stroke-width="0.18">Rfc4</text>
<text x="397.90" y="375.47" font-size="7.0" fill="#333" stroke="#333" stroke-width="0.18">Rad9a</text>
<text x="397.90" y="383.29" font-size="7.0" fill="#333" stroke="#333" stroke-width="0.18">Brip1</text>
<text x="397.90" y="391.11" font-size="7.0" fill="#333" stroke="#333" stroke-width="0.18">Bard1</text>
<text x="397.90" y="398.93" font-size="7.0" fill="#333" stroke="#333" stroke-width="0.18">Chek1</text>
<text x="397.90" y="406.75" font-size="7.0" fill="#333" stroke="#333" stroke-width="0.18">Fancd2</text>
<text x="397.90" y="414.57" font-size="7.0" fill="#333" stroke="#333" stroke-width="0.18">Gen1</text>
<text x="397.90" y="422.39" font-size="7.0" fill="#333" stroke="#333" stroke-width="0.18">Rad51b</text>
<text x="397.90" y="430.21" font-size="7.0" fill="#333" stroke="#333" stroke-width="0.18">Rad51ap1</text>
<text x="397.90" y="438.03" font-size="7.0" fill="#333" stroke="#333" stroke-width="0.18">Ube2t</text>
<text x="397.90" y="445.85" font-size="7.0" fill="#333" stroke="#333" stroke-width="0.18">Rad51</text>
<text x="397.90" y="453.67" font-size="7.0" fill="#333" stroke="#333" stroke-width="0.18">Pcna</text>
<text x="397.90" y="461.49" font-size="7.0" fill="#333" stroke="#333" stroke-width="0.18">Eme1</text>
<text x="397.90" y="469.31" font-size="7.0" fill="#333" stroke="#333" stroke-width="0.18">Rmi2</text>
<text x="397.90" y="477.13" font-size="7.0" fill="#333" stroke="#333" stroke-width="0.18">Rad51c</text>
<text x="309.00" y="261.00" font-size="9.9" fill="#222" textLength="51.00" lengthAdjust="spacingAndGlyphs" stroke="#222" stroke-width="0.18">DNA repair</text>
<text transform="translate(307.70,485.04) rotate(-45)" x="0" y="0" font-size="7.7" fill="#333" stroke="#333" stroke-width="0.12" text-anchor="end" textLength="39.5" lengthAdjust="spacingAndGlyphs">β-cateninKO</text>
<text transform="translate(333.90,485.04) rotate(-45)" x="0" y="0" font-size="7.7" fill="#333" stroke="#333" stroke-width="0.12" text-anchor="end" textLength="29.3" lengthAdjust="spacingAndGlyphs">Hoxa9KO</text>
<text transform="translate(360.10,485.04) rotate(-45)" x="0" y="0" font-size="7.7" fill="#333" stroke="#333" stroke-width="0.12" text-anchor="end" textLength="13.6" lengthAdjust="spacingAndGlyphs">dKO</text>
<text transform="translate(386.30,485.04) rotate(-45)" x="0" y="0" font-size="7.7" fill="#333" stroke="#333" stroke-width="0.12" text-anchor="end" textLength="27.8" lengthAdjust="spacingAndGlyphs">Prmt1KO</text>
<text x="187.10" y="350.80" font-size="7.4" fill="#333" textLength="23.00" lengthAdjust="spacingAndGlyphs" stroke="#333" stroke-width="0.18">log2FC</text>
<linearGradient id="lg187" x1="0" x2="0" y1="0" y2="1"><stop offset="0" stop-color="#d2352a"/><stop offset="0.22" stop-color="#ef8a6e"/><stop offset="0.5" stop-color="#fbf5f7"/><stop offset="0.72" stop-color="#9a8cc6"/><stop offset="1" stop-color="#251a7a"/></linearGradient>
<rect x="187.30" y="356.10" width="5.00" height="30.50" fill="url(#lg187)"/>
<text x="196.30" y="360.10" font-size="7.6" fill="#333" stroke="#333" stroke-width="0.18">2</text>
<text x="196.30" y="367.13" font-size="7.6" fill="#333" stroke="#333" stroke-width="0.18">1</text>
<text x="196.30" y="374.16" font-size="7.6" fill="#333" stroke="#333" stroke-width="0.18">0</text>
<text x="195.80" y="381.19" font-size="7.6" fill="#333" stroke="#333" stroke-width="0.18">−1</text>
<text x="195.80" y="388.22" font-size="7.6" fill="#333" stroke="#333" stroke-width="0.18">−2</text>
<text x="429.20" y="350.60" font-size="7.4" fill="#333" textLength="23.00" lengthAdjust="spacingAndGlyphs" stroke="#333" stroke-width="0.18">log2FC</text>
<linearGradient id="lg429" x1="0" x2="0" y1="0" y2="1"><stop offset="0" stop-color="#d2352a"/><stop offset="0.22" stop-color="#ef8a6e"/><stop offset="0.5" stop-color="#fbf5f7"/><stop offset="0.72" stop-color="#9a8cc6"/><stop offset="1" stop-color="#251a7a"/></linearGradient>
<rect x="429.40" y="355.90" width="5.00" height="30.50" fill="url(#lg429)"/>
<text x="438.40" y="359.90" font-size="7.6" fill="#333" stroke="#333" stroke-width="0.18">2</text>
<text x="438.40" y="366.93" font-size="7.6" fill="#333" stroke="#333" stroke-width="0.18">1</text>
<text x="438.40" y="373.96" font-size="7.6" fill="#333" stroke="#333" stroke-width="0.18">0</text>
<text x="437.90" y="380.99" font-size="7.6" fill="#333" stroke="#333" stroke-width="0.18">−1</text>
<text x="437.90" y="388.02" font-size="7.6" fill="#333" stroke="#333" stroke-width="0.18">−2</text>
<line x1="44.40" y1="272.86" x2="45.60" y2="272.86" stroke="#6e6e6e" stroke-width="0.65"/>
<line x1="44.40" y1="281.58" x2="45.60" y2="281.58" stroke="#6e6e6e" stroke-width="0.65"/>
<line x1="44.40" y1="272.86" x2="44.40" y2="281.58" stroke="#6e6e6e" stroke-width="0.65"/>
<line x1="44.80" y1="290.30" x2="45.60" y2="290.30" stroke="#6e6e6e" stroke-width="0.65"/>
<line x1="44.80" y1="299.02" x2="45.60" y2="299.02" stroke="#6e6e6e" stroke-width="0.65"/>
<line x1="44.80" y1="290.30" x2="44.80" y2="299.02" stroke="#6e6e6e" stroke-width="0.65"/>
<line x1="44.80" y1="307.74" x2="45.60" y2="307.74" stroke="#6e6e6e" stroke-width="0.65"/>
<line x1="44.80" y1="316.46" x2="45.60" y2="316.46" stroke="#6e6e6e" stroke-width="0.65"/>
<line x1="44.80" y1="307.74" x2="44.80" y2="316.46" stroke="#6e6e6e" stroke-width="0.65"/>
<line x1="44.20" y1="294.66" x2="44.80" y2="294.66" stroke="#6e6e6e" stroke-width="0.65"/>
<line x1="44.20" y1="312.10" x2="44.80" y2="312.10" stroke="#6e6e6e" stroke-width="0.65"/>
<line x1="44.20" y1="294.66" x2="44.20" y2="312.10" stroke="#6e6e6e" stroke-width="0.65"/>
<line x1="43.80" y1="277.22" x2="44.40" y2="277.22" stroke="#6e6e6e" stroke-width="0.65"/>
<line x1="43.80" y1="303.38" x2="44.20" y2="303.38" stroke="#6e6e6e" stroke-width="0.65"/>
<line x1="43.80" y1="277.22" x2="43.80" y2="303.38" stroke="#6e6e6e" stroke-width="0.65"/>
<line x1="44.60" y1="325.18" x2="45.60" y2="325.18" stroke="#6e6e6e" stroke-width="0.65"/>
<line x1="44.60" y1="333.90" x2="45.60" y2="333.90" stroke="#6e6e6e" stroke-width="0.65"/>
<line x1="44.60" y1="325.18" x2="44.60" y2="333.90" stroke="#6e6e6e" stroke-width="0.65"/>
<line x1="45.00" y1="360.06" x2="45.60" y2="360.06" stroke="#6e6e6e" stroke-width="0.65"/>
<line x1="45.00" y1="368.78" x2="45.60" y2="368.78" stroke="#6e6e6e" stroke-width="0.65"/>
<line x1="45.00" y1="360.06" x2="45.00" y2="368.78" stroke="#6e6e6e" stroke-width="0.65"/>
<line x1="44.80" y1="351.34" x2="45.60" y2="351.34" stroke="#6e6e6e" stroke-width="0.65"/>
<line x1="44.80" y1="364.42" x2="45.00" y2="364.42" stroke="#6e6e6e" stroke-width="0.65"/>
<line x1="44.80" y1="351.34" x2="44.80" y2="364.42" stroke="#6e6e6e" stroke-width="0.65"/>
<line x1="44.30" y1="342.62" x2="45.60" y2="342.62" stroke="#6e6e6e" stroke-width="0.65"/>
<line x1="44.30" y1="357.88" x2="44.80" y2="357.88" stroke="#6e6e6e" stroke-width="0.65"/>
<line x1="44.30" y1="342.62" x2="44.30" y2="357.88" stroke="#6e6e6e" stroke-width="0.65"/>
<line x1="43.40" y1="329.54" x2="44.60" y2="329.54" stroke="#6e6e6e" stroke-width="0.65"/>
<line x1="43.40" y1="350.25" x2="44.30" y2="350.25" stroke="#6e6e6e" stroke-width="0.65"/>
<line x1="43.40" y1="329.54" x2="43.40" y2="350.25" stroke="#6e6e6e" stroke-width="0.65"/>
<line x1="44.70" y1="377.50" x2="45.60" y2="377.50" stroke="#6e6e6e" stroke-width="0.65"/>
<line x1="44.70" y1="386.22" x2="45.60" y2="386.22" stroke="#6e6e6e" stroke-width="0.65"/>
<line x1="44.70" y1="377.50" x2="44.70" y2="386.22" stroke="#6e6e6e" stroke-width="0.65"/>
<line x1="44.20" y1="381.86" x2="44.70" y2="381.86" stroke="#6e6e6e" stroke-width="0.65"/>
<line x1="44.20" y1="394.94" x2="45.60" y2="394.94" stroke="#6e6e6e" stroke-width="0.65"/>
<line x1="44.20" y1="381.86" x2="44.20" y2="394.94" stroke="#6e6e6e" stroke-width="0.65"/>
<line x1="44.40" y1="403.66" x2="45.60" y2="403.66" stroke="#6e6e6e" stroke-width="0.65"/>
<line x1="44.40" y1="412.38" x2="45.60" y2="412.38" stroke="#6e6e6e" stroke-width="0.65"/>
<line x1="44.40" y1="403.66" x2="44.40" y2="412.38" stroke="#6e6e6e" stroke-width="0.65"/>
<line x1="44.90" y1="429.82" x2="45.60" y2="429.82" stroke="#6e6e6e" stroke-width="0.65"/>
<line x1="44.90" y1="438.54" x2="45.60" y2="438.54" stroke="#6e6e6e" stroke-width="0.65"/>
<line x1="44.90" y1="429.82" x2="44.90" y2="438.54" stroke="#6e6e6e" stroke-width="0.65"/>
<line x1="44.70" y1="447.26" x2="45.60" y2="447.26" stroke="#6e6e6e" stroke-width="0.65"/>
<line x1="44.70" y1="455.98" x2="45.60" y2="455.98" stroke="#6e6e6e" stroke-width="0.65"/>
<line x1="44.70" y1="447.26" x2="44.70" y2="455.98" stroke="#6e6e6e" stroke-width="0.65"/>
<line x1="44.50" y1="434.18" x2="44.90" y2="434.18" stroke="#6e6e6e" stroke-width="0.65"/>
<line x1="44.50" y1="451.62" x2="44.70" y2="451.62" stroke="#6e6e6e" stroke-width="0.65"/>
<line x1="44.50" y1="434.18" x2="44.50" y2="451.62" stroke="#6e6e6e" stroke-width="0.65"/>
<line x1="44.10" y1="421.10" x2="45.60" y2="421.10" stroke="#6e6e6e" stroke-width="0.65"/>
<line x1="44.10" y1="442.90" x2="44.50" y2="442.90" stroke="#6e6e6e" stroke-width="0.65"/>
<line x1="44.10" y1="421.10" x2="44.10" y2="442.90" stroke="#6e6e6e" stroke-width="0.65"/>
<line x1="43.70" y1="408.02" x2="44.40" y2="408.02" stroke="#6e6e6e" stroke-width="0.65"/>
<line x1="43.70" y1="432.00" x2="44.10" y2="432.00" stroke="#6e6e6e" stroke-width="0.65"/>
<line x1="43.70" y1="408.02" x2="43.70" y2="432.00" stroke="#6e6e6e" stroke-width="0.65"/>
<line x1="43.00" y1="388.40" x2="44.20" y2="388.40" stroke="#6e6e6e" stroke-width="0.65"/>
<line x1="43.00" y1="420.01" x2="43.70" y2="420.01" stroke="#6e6e6e" stroke-width="0.65"/>
<line x1="43.00" y1="388.40" x2="43.00" y2="420.01" stroke="#6e6e6e" stroke-width="0.65"/>
<line x1="42.40" y1="339.89" x2="43.40" y2="339.89" stroke="#6e6e6e" stroke-width="0.65"/>
<line x1="42.40" y1="404.20" x2="43.00" y2="404.20" stroke="#6e6e6e" stroke-width="0.65"/>
<line x1="42.40" y1="339.89" x2="42.40" y2="404.20" stroke="#6e6e6e" stroke-width="0.65"/>
<line x1="38.80" y1="290.30" x2="43.80" y2="290.30" stroke="#6e6e6e" stroke-width="0.65"/>
<line x1="38.80" y1="372.05" x2="42.40" y2="372.05" stroke="#6e6e6e" stroke-width="0.65"/>
<line x1="38.80" y1="290.30" x2="38.80" y2="372.05" stroke="#6e6e6e" stroke-width="0.65"/>
<line x1="41.80" y1="464.70" x2="45.60" y2="464.70" stroke="#6e6e6e" stroke-width="0.65"/>
<line x1="41.80" y1="473.42" x2="45.60" y2="473.42" stroke="#6e6e6e" stroke-width="0.65"/>
<line x1="41.80" y1="464.70" x2="41.80" y2="473.42" stroke="#6e6e6e" stroke-width="0.65"/>
<line x1="34.10" y1="331.17" x2="38.80" y2="331.17" stroke="#6e6e6e" stroke-width="0.65"/>
<line x1="34.10" y1="469.06" x2="41.80" y2="469.06" stroke="#6e6e6e" stroke-width="0.65"/>
<line x1="34.10" y1="331.17" x2="34.10" y2="469.06" stroke="#6e6e6e" stroke-width="0.65"/>
<line x1="287.90" y1="286.95" x2="288.60" y2="286.95" stroke="#6e6e6e" stroke-width="0.65"/>
<line x1="287.90" y1="294.77" x2="288.60" y2="294.77" stroke="#6e6e6e" stroke-width="0.65"/>
<line x1="287.90" y1="286.95" x2="287.90" y2="294.77" stroke="#6e6e6e" stroke-width="0.65"/>
<line x1="287.60" y1="290.86" x2="287.90" y2="290.86" stroke="#6e6e6e" stroke-width="0.65"/>
<line x1="287.60" y1="302.59" x2="288.60" y2="302.59" stroke="#6e6e6e" stroke-width="0.65"/>
<line x1="287.60" y1="290.86" x2="287.60" y2="302.59" stroke="#6e6e6e" stroke-width="0.65"/>
<line x1="287.10" y1="279.13" x2="288.60" y2="279.13" stroke="#6e6e6e" stroke-width="0.65"/>
<line x1="287.10" y1="296.73" x2="287.60" y2="296.73" stroke="#6e6e6e" stroke-width="0.65"/>
<line x1="287.10" y1="279.13" x2="287.10" y2="296.73" stroke="#6e6e6e" stroke-width="0.65"/>
<line x1="286.60" y1="271.31" x2="288.60" y2="271.31" stroke="#6e6e6e" stroke-width="0.65"/>
<line x1="286.60" y1="287.93" x2="287.10" y2="287.93" stroke="#6e6e6e" stroke-width="0.65"/>
<line x1="286.60" y1="271.31" x2="286.60" y2="287.93" stroke="#6e6e6e" stroke-width="0.65"/>
<line x1="286.90" y1="310.41" x2="288.60" y2="310.41" stroke="#6e6e6e" stroke-width="0.65"/>
<line x1="286.90" y1="318.23" x2="288.60" y2="318.23" stroke="#6e6e6e" stroke-width="0.65"/>
<line x1="286.90" y1="310.41" x2="286.90" y2="318.23" stroke="#6e6e6e" stroke-width="0.65"/>
<line x1="285.00" y1="279.62" x2="286.60" y2="279.62" stroke="#6e6e6e" stroke-width="0.65"/>
<line x1="285.00" y1="314.32" x2="286.90" y2="314.32" stroke="#6e6e6e" stroke-width="0.65"/>
<line x1="285.00" y1="279.62" x2="285.00" y2="314.32" stroke="#6e6e6e" stroke-width="0.65"/>
<line x1="287.50" y1="326.05" x2="288.60" y2="326.05" stroke="#6e6e6e" stroke-width="0.65"/>
<line x1="287.50" y1="333.87" x2="288.60" y2="333.87" stroke="#6e6e6e" stroke-width="0.65"/>
<line x1="287.50" y1="326.05" x2="287.50" y2="333.87" stroke="#6e6e6e" stroke-width="0.65"/>
<line x1="287.80" y1="349.51" x2="288.60" y2="349.51" stroke="#6e6e6e" stroke-width="0.65"/>
<line x1="287.80" y1="357.33" x2="288.60" y2="357.33" stroke="#6e6e6e" stroke-width="0.65"/>
<line x1="287.80" y1="349.51" x2="287.80" y2="357.33" stroke="#6e6e6e" stroke-width="0.65"/>
<line x1="287.20" y1="341.69" x2="288.60" y2="341.69" stroke="#6e6e6e" stroke-width="0.65"/>
<line x1="287.20" y1="353.42" x2="287.80" y2="353.42" stroke="#6e6e6e" stroke-width="0.65"/>
<line x1="287.20" y1="341.69" x2="287.20" y2="353.42" stroke="#6e6e6e" stroke-width="0.65"/>
<line x1="286.60" y1="329.96" x2="287.50" y2="329.96" stroke="#6e6e6e" stroke-width="0.65"/>
<line x1="286.60" y1="347.55" x2="287.20" y2="347.55" stroke="#6e6e6e" stroke-width="0.65"/>
<line x1="286.60" y1="329.96" x2="286.60" y2="347.55" stroke="#6e6e6e" stroke-width="0.65"/>
<line x1="287.60" y1="365.15" x2="288.60" y2="365.15" stroke="#6e6e6e" stroke-width="0.65"/>
<line x1="287.60" y1="372.97" x2="288.60" y2="372.97" stroke="#6e6e6e" stroke-width="0.65"/>
<line x1="287.60" y1="365.15" x2="287.60" y2="372.97" stroke="#6e6e6e" stroke-width="0.65"/>
<line x1="287.40" y1="380.79" x2="288.60" y2="380.79" stroke="#6e6e6e" stroke-width="0.65"/>
<line x1="287.40" y1="388.61" x2="288.60" y2="388.61" stroke="#6e6e6e" stroke-width="0.65"/>
<line x1="287.40" y1="380.79" x2="287.40" y2="388.61" stroke="#6e6e6e" stroke-width="0.65"/>
<line x1="287.00" y1="369.06" x2="287.60" y2="369.06" stroke="#6e6e6e" stroke-width="0.65"/>
<line x1="287.00" y1="384.70" x2="287.40" y2="384.70" stroke="#6e6e6e" stroke-width="0.65"/>
<line x1="287.00" y1="369.06" x2="287.00" y2="384.70" stroke="#6e6e6e" stroke-width="0.65"/>
<line x1="287.80" y1="404.25" x2="288.60" y2="404.25" stroke="#6e6e6e" stroke-width="0.65"/>
<line x1="287.80" y1="412.07" x2="288.60" y2="412.07" stroke="#6e6e6e" stroke-width="0.65"/>
<line x1="287.80" y1="404.25" x2="287.80" y2="412.07" stroke="#6e6e6e" stroke-width="0.65"/>
<line x1="287.30" y1="396.43" x2="288.60" y2="396.43" stroke="#6e6e6e" stroke-width="0.65"/>
<line x1="287.30" y1="408.16" x2="287.80" y2="408.16" stroke="#6e6e6e" stroke-width="0.65"/>
<line x1="287.30" y1="396.43" x2="287.30" y2="408.16" stroke="#6e6e6e" stroke-width="0.65"/>
<line x1="287.50" y1="419.89" x2="288.60" y2="419.89" stroke="#6e6e6e" stroke-width="0.65"/>
<line x1="287.50" y1="427.71" x2="288.60" y2="427.71" stroke="#6e6e6e" stroke-width="0.65"/>
<line x1="287.50" y1="419.89" x2="287.50" y2="427.71" stroke="#6e6e6e" stroke-width="0.65"/>
<line x1="287.70" y1="435.53" x2="288.60" y2="435.53" stroke="#6e6e6e" stroke-width="0.65"/>
<line x1="287.70" y1="443.35" x2="288.60" y2="443.35" stroke="#6e6e6e" stroke-width="0.65"/>
<line x1="287.70" y1="435.53" x2="287.70" y2="443.35" stroke="#6e6e6e" stroke-width="0.65"/>
<line x1="287.10" y1="451.17" x2="288.60" y2="451.17" stroke="#6e6e6e" stroke-width="0.65"/>
<line x1="287.10" y1="458.99" x2="288.60" y2="458.99" stroke="#6e6e6e" stroke-width="0.65"/>
<line x1="287.10" y1="451.17" x2="287.10" y2="458.99" stroke="#6e6e6e" stroke-width="0.65"/>
<line x1="287.20" y1="439.44" x2="287.70" y2="439.44" stroke="#6e6e6e" stroke-width="0.65"/>
<line x1="287.20" y1="455.08" x2="287.10" y2="455.08" stroke="#6e6e6e" stroke-width="0.65"/>
<line x1="287.20" y1="439.44" x2="287.20" y2="455.08" stroke="#6e6e6e" stroke-width="0.65"/>
<line x1="286.90" y1="423.80" x2="287.50" y2="423.80" stroke="#6e6e6e" stroke-width="0.65"/>
<line x1="286.90" y1="447.26" x2="287.20" y2="447.26" stroke="#6e6e6e" stroke-width="0.65"/>
<line x1="286.90" y1="423.80" x2="286.90" y2="447.26" stroke="#6e6e6e" stroke-width="0.65"/>
<line x1="286.60" y1="402.29" x2="287.30" y2="402.29" stroke="#6e6e6e" stroke-width="0.65"/>
<line x1="286.60" y1="435.53" x2="286.90" y2="435.53" stroke="#6e6e6e" stroke-width="0.65"/>
<line x1="286.60" y1="402.29" x2="286.60" y2="435.53" stroke="#6e6e6e" stroke-width="0.65"/>
<line x1="286.20" y1="376.88" x2="287.00" y2="376.88" stroke="#6e6e6e" stroke-width="0.65"/>
<line x1="286.20" y1="418.91" x2="286.60" y2="418.91" stroke="#6e6e6e" stroke-width="0.65"/>
<line x1="286.20" y1="376.88" x2="286.20" y2="418.91" stroke="#6e6e6e" stroke-width="0.65"/>
<line x1="285.30" y1="338.76" x2="286.60" y2="338.76" stroke="#6e6e6e" stroke-width="0.65"/>
<line x1="285.30" y1="397.90" x2="286.20" y2="397.90" stroke="#6e6e6e" stroke-width="0.65"/>
<line x1="285.30" y1="338.76" x2="285.30" y2="397.90" stroke="#6e6e6e" stroke-width="0.65"/>
<line x1="281.20" y1="296.97" x2="285.00" y2="296.97" stroke="#6e6e6e" stroke-width="0.65"/>
<line x1="281.20" y1="368.33" x2="285.30" y2="368.33" stroke="#6e6e6e" stroke-width="0.65"/>
<line x1="281.20" y1="296.97" x2="281.20" y2="368.33" stroke="#6e6e6e" stroke-width="0.65"/>
<line x1="284.40" y1="466.81" x2="288.60" y2="466.81" stroke="#6e6e6e" stroke-width="0.65"/>
<line x1="284.40" y1="474.63" x2="288.60" y2="474.63" stroke="#6e6e6e" stroke-width="0.65"/>
<line x1="284.40" y1="466.81" x2="284.40" y2="474.63" stroke="#6e6e6e" stroke-width="0.65"/>
<line x1="276.80" y1="332.65" x2="281.20" y2="332.65" stroke="#6e6e6e" stroke-width="0.65"/>
<line x1="276.80" y1="470.72" x2="284.40" y2="470.72" stroke="#6e6e6e" stroke-width="0.65"/>
<line x1="276.80" y1="332.65" x2="276.80" y2="470.72" stroke="#6e6e6e" stroke-width="0.65"/>
<polyline points="41.80,634.68 42.60,634.22 43.40,634.74 44.20,634.42 45.00,634.40 45.80,634.47 46.60,634.21 47.40,634.40 48.20,634.36 49.00,634.19 49.80,634.41 50.60,634.09 51.40,634.65 52.20,634.82 53.00,634.82 53.80,634.51 54.60,634.06 55.40,634.34 56.20,634.77 57.00,634.51 57.80,634.01 58.60,634.15 59.40,633.90 60.20,633.99 61.00,634.20 61.80,634.39 62.60,634.07 63.40,634.37 64.20,633.97 65.00,634.43 65.80,634.23 66.60,634.09 67.40,633.95 68.20,634.28 69.00,634.45 69.80,634.62 70.60,634.67 71.40,634.44 72.20,633.83 73.00,633.80 73.80,633.40 74.60,633.48 75.40,633.78 76.20,634.10 77.00,633.55 77.80,633.14 78.60,633.25 79.40,633.44 80.20,633.79 81.00,633.23 81.80,633.33 82.60,633.25 83.40,633.08 84.20,633.20 85.00,632.59 85.80,632.54 86.60,632.46 87.40,632.17 88.20,632.28 89.00,632.21 89.80,631.83 90.60,631.92 91.40,631.63 92.20,631.50 93.00,631.06 93.80,630.81 94.60,630.32 95.40,629.86 96.20,630.03 97.00,629.80 97.80,629.52 98.60,628.74 99.40,629.00 100.20,628.89 101.00,628.64 101.80,627.39 102.60,626.91 103.40,626.48 104.20,626.17 105.00,625.58 105.80,625.42 106.60,624.18 107.40,623.55 108.20,623.24 109.00,622.53 109.80,621.77 110.60,621.46 111.40,620.53 112.20,619.85 113.00,618.44 113.80,618.16 114.60,617.40 115.40,615.86 116.20,615.65 117.00,615.17 117.80,613.26 118.60,611.73 119.40,611.24 120.20,609.74 121.00,609.12 121.80,608.82 122.60,607.71 123.40,607.09 124.20,605.05 125.00,604.85 125.80,603.46 126.60,602.39 127.40,601.55 128.20,601.39 129.00,600.65 129.80,600.89 130.60,600.81 131.40,601.11 132.20,601.36 133.00,601.68 133.80,603.66 134.60,606.01 135.40,607.32 136.20,609.80 137.00,610.98 137.80,612.06 138.60,613.22 139.40,614.36 140.20,616.07 141.00,617.16 141.80,618.13 142.60,619.40 143.40,620.90 144.20,621.77 145.00,622.21 145.80,623.22 146.60,624.67 147.40,625.74 148.20,625.74 149.00,626.09 149.80,627.15 150.60,627.97 151.40,628.73 152.20,629.23 153.00,629.45 153.80,630.05 154.60,630.62 155.40,631.24 156.20,631.18 157.00,631.63 157.80,631.86 158.60,632.55 159.40,632.58 160.20,632.52 161.00,632.55 161.80,632.52 162.60,632.91 163.40,633.32 164.20,633.42 165.00,634.02 165.80,634.15 166.60,634.27 167.40,634.53 168.20,634.58 169.00,634.07 169.80,634.46 170.60,634.68 171.40,634.34 172.20,634.84 173.00,634.54 173.80,634.34 174.60,634.37 175.40,634.85 176.20,634.70 177.00,635.12 177.80,634.89 178.60,634.73 179.40,635.21 180.20,634.78 181.00,634.67 181.80,634.55 182.60,634.55 183.40,634.48 184.20,635.06 185.00,634.96 185.80,635.04 186.60,634.73 187.40,634.78 188.20,635.13 189.00,634.93 189.80,634.72 190.60,635.16 191.40,635.35 192.20,634.90 193.00,634.83 193.80,635.06 194.60,634.74 195.40,635.07 196.20,635.19 197.00,635.39 197.80,635.41 198.60,634.95 199.40,635.23 200.20,635.35 201.00,635.27 201.80,635.24 202.60,635.09 203.40,635.08 204.20,634.83 205.00,635.15 205.80,635.05 206.60,635.33 207.40,635.02 208.20,635.44 209.00,635.44 209.80,635.34 210.60,635.69 211.40,635.52 212.20,635.25" fill="none" stroke="#1c1c1c" stroke-width="1.1" stroke-linejoin="round"/>
<polyline points="41.80,634.06 42.60,634.19 43.40,634.09 44.20,634.12 45.00,634.35 45.80,634.05 46.60,633.89 47.40,633.86 48.20,633.84 49.00,633.71 49.80,633.68 50.60,633.91 51.40,634.28 52.20,634.31 53.00,634.10 53.80,633.86 54.60,633.73 55.40,633.83 56.20,633.65 57.00,634.36 57.80,634.69 58.60,634.54 59.40,634.10 60.20,634.47 61.00,634.65 61.80,634.30 62.60,634.24 63.40,634.47 64.20,634.60 65.00,634.49 65.80,634.62 66.60,634.66 67.40,634.71 68.20,634.12 69.00,633.88 69.80,633.57 70.60,633.95 71.40,634.10 72.20,634.20 73.00,633.73 73.80,633.48 74.60,633.83 75.40,633.52 76.20,633.18 77.00,633.17 77.80,633.14 78.60,633.11 79.40,633.34 80.20,633.42 81.00,633.03 81.80,633.45 82.60,633.20 83.40,633.34 84.20,632.90 85.00,632.48 85.80,632.22 86.60,632.29 87.40,632.47 88.20,631.92 89.00,632.00 89.80,631.89 90.60,631.72 91.40,631.14 92.20,631.55 93.00,631.59 93.80,631.15 94.60,630.96 95.40,630.02 96.20,629.68 97.00,629.74 97.80,629.41 98.60,629.01 99.40,628.48 100.20,628.49 101.00,627.73 101.80,626.99 102.60,626.84 103.40,626.15 104.20,626.17 105.00,624.96 105.80,624.70 106.60,624.56 107.40,623.22 108.20,622.24 109.00,621.35 109.80,621.13 110.60,620.46 111.40,618.99 112.20,618.29 113.00,617.77 113.80,616.24 114.60,614.95 115.40,613.44 116.20,612.75 117.00,611.17 117.80,610.43 118.60,609.60 119.40,607.81 120.20,605.65 121.00,604.38 121.80,603.25 122.60,601.77 123.40,600.33 124.20,599.55 125.00,598.10 125.80,597.29 126.60,595.99 127.40,594.87 128.20,592.89 129.00,592.66 129.80,592.22 130.60,591.35 131.40,591.30 132.20,591.50 133.00,591.54 133.80,591.18 134.60,592.85 135.40,596.80 136.20,600.21 137.00,604.53 137.80,608.00 138.60,610.30 139.40,612.93 140.20,615.29 141.00,617.23 141.80,619.18 142.60,619.98 143.40,621.28 144.20,622.61 145.00,623.16 145.80,623.67 146.60,625.06 147.40,625.65 148.20,626.59 149.00,626.63 149.80,627.61 150.60,628.39 151.40,628.21 152.20,628.44 153.00,629.37 153.80,630.03 154.60,630.70 155.40,630.99 156.20,631.18 157.00,630.87 157.80,631.30 158.60,631.64 159.40,631.65 160.20,631.93 161.00,632.46 161.80,633.01 162.60,632.72 163.40,633.18 164.20,632.82 165.00,633.55 165.80,634.01 166.60,633.68 167.40,633.65 168.20,633.64 169.00,633.75 169.80,633.74 170.60,634.12 171.40,634.10 172.20,633.83 173.00,634.33 173.80,634.50 174.60,634.15 175.40,634.11 176.20,634.38 177.00,634.46 177.80,634.83 178.60,635.20 179.40,634.99 180.20,634.76 181.00,635.12 181.80,635.27 182.60,634.91 183.40,634.96 184.20,634.70 185.00,634.51 185.80,634.38 186.60,634.98 187.40,635.20 188.20,635.05 189.00,635.47 189.80,635.39 190.60,635.20 191.40,635.23 192.20,634.87 193.00,635.39 193.80,635.19 194.60,635.14 195.40,635.22 196.20,635.18 197.00,635.10 197.80,635.47 198.60,635.38 199.40,634.97 200.20,635.36 201.00,635.65 201.80,635.08 202.60,635.08 203.40,635.39 204.20,635.27 205.00,634.99 205.80,635.55 206.60,635.79 207.40,635.71 208.20,635.91 209.00,635.68 209.80,635.17 210.60,635.06 211.40,635.46 212.20,635.17" fill="none" stroke="#6b3d8c" stroke-width="1.1" stroke-linejoin="round"/>
<polyline points="41.80,634.42 42.60,634.79 43.40,634.60 44.20,634.31 45.00,634.29 45.80,634.74 46.60,634.90 47.40,634.55 48.20,634.85 49.00,634.90 49.80,634.32 50.60,633.97 51.40,634.26 52.20,634.58 53.00,634.78 53.80,634.78 54.60,634.73 55.40,634.41 56.20,634.22 57.00,633.97 57.80,634.22 58.60,634.54 59.40,634.83 60.20,634.21 61.00,634.57 61.80,634.22 62.60,634.24 63.40,634.57 64.20,634.02 65.00,634.42 65.80,634.24 66.60,634.21 67.40,634.50 68.20,634.20 69.00,634.33 69.80,633.94 70.60,634.10 71.40,633.86 72.20,634.14 73.00,634.23 73.80,634.13 74.60,634.25 75.40,633.86 76.20,633.90 77.00,633.85 77.80,634.04 78.60,633.48 79.40,633.83 80.20,633.64 81.00,633.48 81.80,633.17 82.60,633.31 83.40,633.23 84.20,633.30 85.00,632.95 85.80,632.76 86.60,632.46 87.40,632.26 88.20,632.60 89.00,632.46 89.80,632.13 90.60,632.24 91.40,631.82 92.20,631.68 93.00,631.12 93.80,630.44 94.60,630.73 95.40,630.70 96.20,629.78 97.00,629.62 97.80,629.73 98.60,629.38 99.40,629.11 100.20,628.67 101.00,627.97 101.80,627.74 102.60,627.58 103.40,626.49 104.20,626.00 105.00,625.44 105.80,625.08 106.60,624.59 107.40,623.28 108.20,622.20 109.00,621.22 109.80,620.41 110.60,619.58 111.40,618.37 112.20,617.95 113.00,616.43 113.80,615.37 114.60,614.31 115.40,613.40 116.20,611.80 117.00,610.55 117.80,609.29 118.60,607.31 119.40,604.95 120.20,603.93 121.00,601.93 121.80,600.07 122.60,598.76 123.40,596.94 124.20,595.19 125.00,592.85 125.80,591.40 126.60,589.19 127.40,586.38 128.20,585.61 129.00,583.81 129.80,582.05 130.60,582.16 131.40,581.33 132.20,581.88 133.00,581.18 133.80,582.66 134.60,584.86 135.40,589.69 136.20,594.49 137.00,598.79 137.80,602.98 138.60,606.40 139.40,609.91 140.20,612.42 141.00,614.25 141.80,615.37 142.60,617.54 143.40,618.38 144.20,619.27 145.00,620.33 145.80,621.20 146.60,622.32 147.40,623.30 148.20,624.12 149.00,625.43 149.80,626.08 150.60,626.58 151.40,626.65 152.20,627.56 153.00,628.07 153.80,628.04 154.60,628.92 155.40,628.89 156.20,629.71 157.00,630.09 157.80,630.92 158.60,630.82 159.40,631.41 160.20,631.21 161.00,631.49 161.80,631.91 162.60,632.63 163.40,632.63 164.20,633.22 165.00,633.54 165.80,632.98 166.60,633.60 167.40,633.84 168.20,633.96 169.00,633.94 169.80,633.54 170.60,633.91 171.40,633.62 172.20,634.23 173.00,634.60 173.80,634.40 174.60,634.22 175.40,634.61 176.20,634.58 177.00,634.20 177.80,634.64 178.60,634.36 179.40,634.30 180.20,634.59 181.00,634.56 181.80,634.71 182.60,634.49 183.40,634.45 184.20,635.11 185.00,634.91 185.80,634.85 186.60,634.60 187.40,635.01 188.20,634.75 189.00,634.55 189.80,634.41 190.60,634.44 191.40,635.16 192.20,635.20 193.00,635.46 193.80,635.35 194.60,634.92 195.40,635.14 196.20,635.01 197.00,635.43 197.80,635.23 198.60,634.88 199.40,634.66 200.20,635.16 201.00,635.20 201.80,635.13 202.60,635.54 203.40,635.75 204.20,635.43 205.00,635.01 205.80,635.48 206.60,635.14 207.40,635.25 208.20,634.97 209.00,634.97 209.80,634.75 210.60,634.88 211.40,635.42 212.20,635.14" fill="none" stroke="#2f5ca6" stroke-width="1.1" stroke-linejoin="round"/>
<polyline points="41.80,634.43 42.60,634.68 43.40,633.97 44.20,633.86 45.00,634.09 45.80,633.89 46.60,633.60 47.40,634.14 48.20,634.31 49.00,634.01 49.80,634.15 50.60,633.71 51.40,633.51 52.20,633.49 53.00,633.49 53.80,633.30 54.60,633.35 55.40,633.56 56.20,633.25 57.00,633.06 57.80,633.46 58.60,633.85 59.40,633.61 60.20,633.17 61.00,633.47 61.80,633.66 62.60,633.30 63.40,633.08 64.20,633.27 65.00,633.64 65.80,633.87 66.60,633.92 67.40,633.66 68.20,633.57 69.00,633.30 69.80,633.13 70.60,633.06 71.40,633.09 72.20,633.03 73.00,632.96 73.80,633.20 74.60,632.99 75.40,633.12 76.20,632.36 77.00,632.37 77.80,631.92 78.60,631.52 79.40,632.12 80.20,632.16 81.00,631.59 81.80,631.92 82.60,631.59 83.40,631.33 84.20,630.88 85.00,630.65 85.80,631.06 86.60,630.55 87.40,630.31 88.20,630.19 89.00,630.11 89.80,630.29 90.60,629.80 91.40,629.48 92.20,629.14 93.00,629.31 93.80,629.54 94.60,629.15 95.40,628.37 96.20,628.56 97.00,628.18 97.80,627.67 98.60,627.75 99.40,627.16 100.20,627.07 101.00,626.77 101.80,626.08 102.60,625.52 103.40,624.51 104.20,624.01 105.00,623.44 105.80,622.50 106.60,622.06 107.40,621.34 108.20,620.44 109.00,619.13 109.80,618.55 110.60,618.26 111.40,617.06 112.20,615.56 113.00,614.15 113.80,612.66 114.60,610.90 115.40,609.01 116.20,607.72 117.00,604.93 117.80,602.68 118.60,600.90 119.40,599.21 120.20,596.90 121.00,593.40 121.80,590.56 122.60,588.42 123.40,584.84 124.20,582.28 125.00,578.82 125.80,577.41 126.60,575.61 127.40,572.03 128.20,571.01 129.00,567.75 129.80,567.29 130.60,565.48 131.40,564.11 132.20,565.23 133.00,565.62 133.80,568.26 134.60,571.33 135.40,575.49 136.20,580.69 137.00,586.11 137.80,591.18 138.60,594.66 139.40,598.72 140.20,603.72 141.00,607.17 141.80,609.37 142.60,611.90 143.40,614.75 144.20,616.58 145.00,618.49 145.80,619.51 146.60,621.19 147.40,622.40 148.20,623.56 149.00,624.23 149.80,624.56 150.60,625.32 151.40,625.89 152.20,626.70 153.00,627.11 153.80,627.04 154.60,627.13 155.40,627.28 156.20,628.22 157.00,628.48 157.80,629.20 158.60,629.01 159.40,629.47 160.20,629.91 161.00,629.62 161.80,629.57 162.60,630.21 163.40,630.15 164.20,630.92 165.00,630.97 165.80,631.15 166.60,631.49 167.40,632.11 168.20,631.96 169.00,632.48 169.80,632.15 170.60,632.05 171.40,632.27 172.20,632.48 173.00,633.12 173.80,633.44 174.60,633.46 175.40,633.09 176.20,633.25 177.00,633.70 177.80,633.42 178.60,633.50 179.40,633.97 180.20,633.48 181.00,633.94 181.80,633.93 182.60,634.29 183.40,633.99 184.20,633.68 185.00,633.84 185.80,633.75 186.60,633.72 187.40,634.42 188.20,634.19 189.00,634.51 189.80,634.39 190.60,634.33 191.40,634.58 192.20,634.73 193.00,634.40 193.80,634.17 194.60,634.36 195.40,634.90 196.20,634.60 197.00,634.36 197.80,634.30 198.60,634.77 199.40,634.57 200.20,634.82 201.00,635.24 201.80,635.33 202.60,635.49 203.40,635.03 204.20,634.70 205.00,635.04 205.80,635.29 206.60,634.82 207.40,634.75 208.20,634.65 209.00,635.22 209.80,635.47 210.60,635.13 211.40,635.16 212.20,635.56" fill="none" stroke="#3aa64f" stroke-width="1.1" stroke-linejoin="round"/>
<polyline points="41.80,634.01 42.60,634.35 43.40,634.26 44.20,634.59 45.00,634.45 45.80,634.54 46.60,634.31 47.40,634.12 48.20,634.08 49.00,633.70 49.80,633.68 50.60,634.20 51.40,634.19 52.20,634.15 53.00,633.83 53.80,634.11 54.60,633.78 55.40,634.15 56.20,634.31 57.00,634.25 57.80,634.06 58.60,633.64 59.40,633.54 60.20,633.25 61.00,633.56 61.80,633.74 62.60,633.26 63.40,633.44 64.20,633.58 65.00,633.68 65.80,633.90 66.60,634.00 67.40,633.78 68.20,633.41 69.00,633.23 69.80,632.84 70.60,633.18 71.40,632.98 72.20,633.11 73.00,632.70 73.80,632.42 74.60,632.78 75.40,632.12 76.20,632.34 77.00,631.77 77.80,631.85 78.60,631.80 79.40,631.35 80.20,631.75 81.00,631.34 81.80,631.56 82.60,630.89 83.40,630.30 84.20,630.44 85.00,629.93 85.80,630.31 86.60,629.90 87.40,629.71 88.20,628.90 89.00,628.62 89.80,628.94 90.60,628.01 91.40,628.13 92.20,627.52 93.00,627.35 93.80,627.32 94.60,626.33 95.40,625.30 96.20,624.86 97.00,624.12 97.80,623.60 98.60,622.77 99.40,622.08 100.20,621.20 101.00,620.64 101.80,619.60 102.60,619.07 103.40,618.80 104.20,617.10 105.00,616.47 105.80,615.33 106.60,613.65 107.40,612.75 108.20,610.24 109.00,609.44 109.80,608.05 110.60,605.78 111.40,603.54 112.20,600.99 113.00,598.70 113.80,597.36 114.60,594.77 115.40,592.25 116.20,588.89 117.00,586.75 117.80,584.26 118.60,581.69 119.40,578.97 120.20,575.46 121.00,571.87 121.80,568.57 122.60,566.96 123.40,564.95 124.20,561.12 125.00,560.13 125.80,556.26 126.60,555.31 127.40,553.97 128.20,553.10 129.00,551.74 129.80,553.06 130.60,554.54 131.40,553.86 132.20,555.35 133.00,559.22 133.80,562.40 134.60,565.51 135.40,569.32 136.20,572.75 137.00,575.64 137.80,578.68 138.60,582.76 139.40,585.85 140.20,588.41 141.00,592.05 141.80,595.70 142.60,598.44 143.40,600.31 144.20,603.40 145.00,606.32 145.80,607.97 146.60,610.24 147.40,611.97 148.20,613.75 149.00,615.50 149.80,616.61 150.60,618.17 151.40,619.19 152.20,620.65 153.00,621.44 153.80,622.00 154.60,622.32 155.40,622.77 156.20,624.02 157.00,624.57 157.80,625.25 158.60,625.78 159.40,626.76 160.20,626.70 161.00,627.49 161.80,628.27 162.60,628.98 163.40,628.62 164.20,628.55 165.00,629.33 165.80,629.98 166.60,629.71 167.40,630.01 168.20,630.65 169.00,631.10 169.80,631.07 170.60,631.02 171.40,631.29 172.20,631.71 173.00,631.79 173.80,632.12 174.60,631.93 175.40,631.99 176.20,631.89 177.00,631.99 177.80,632.30 178.60,632.28 179.40,632.64 180.20,633.34 181.00,633.68 181.80,633.98 182.60,633.49 183.40,633.65 184.20,633.98 185.00,633.85 185.80,633.96 186.60,634.02 187.40,634.20 188.20,633.98 189.00,633.99 189.80,633.75 190.60,633.94 191.40,633.77 192.20,634.19 193.00,633.91 193.80,633.94 194.60,633.91 195.40,634.52 196.20,634.49 197.00,634.93 197.80,634.69 198.60,635.11 199.40,634.83 200.20,634.63 201.00,634.87 201.80,634.95 202.60,634.77 203.40,634.63 204.20,634.60 205.00,634.88 205.80,634.95 206.60,634.78 207.40,634.64 208.20,634.67 209.00,634.75 209.80,634.60 210.60,634.56 211.40,634.87 212.20,634.78" fill="none" stroke="#c8303f" stroke-width="1.1" stroke-linejoin="round"/>
<line x1="41.30" y1="547.81" x2="41.30" y2="640.85" stroke="#111" stroke-width="1.1"/>
<line x1="41.30" y1="640.35" x2="212.90" y2="640.35" stroke="#111" stroke-width="1.1"/>
<line x1="38.00" y1="636.75" x2="41.30" y2="636.75" stroke="#111" stroke-width="1.0"/>
<text x="34.40" y="639.45" font-size="7.4" fill="#555" text-anchor="end" textLength="3.40" lengthAdjust="spacingAndGlyphs" stroke="#555" stroke-width="0.18">0</text>
<line x1="38.00" y1="608.27" x2="41.30" y2="608.27" stroke="#111" stroke-width="1.0"/>
<text x="34.40" y="610.97" font-size="7.4" fill="#555" text-anchor="end" textLength="15.50" lengthAdjust="spacingAndGlyphs" stroke="#555" stroke-width="0.18">1000</text>
<line x1="38.00" y1="579.79" x2="41.30" y2="579.79" stroke="#111" stroke-width="1.0"/>
<text x="34.40" y="582.49" font-size="7.4" fill="#555" text-anchor="end" textLength="15.50" lengthAdjust="spacingAndGlyphs" stroke="#555" stroke-width="0.18">2000</text>
<line x1="38.00" y1="551.31" x2="41.30" y2="551.31" stroke="#111" stroke-width="1.0"/>
<text x="34.40" y="554.01" font-size="7.4" fill="#555" text-anchor="end" textLength="15.50" lengthAdjust="spacingAndGlyphs" stroke="#555" stroke-width="0.18">3000</text>
<line x1="41.30" y1="640.35" x2="41.30" y2="643.55" stroke="#111" stroke-width="1.0"/>
<line x1="127.30" y1="640.35" x2="127.30" y2="643.55" stroke="#111" stroke-width="1.0"/>
<line x1="212.90" y1="640.35" x2="212.90" y2="643.55" stroke="#111" stroke-width="1.0"/>
<text x="41.20" y="653.85" font-size="7.4" fill="#555" text-anchor="middle" textLength="13.50" lengthAdjust="spacingAndGlyphs" stroke="#555" stroke-width="0.18">−2.0</text>
<text x="127.20" y="653.85" font-size="7.4" fill="#555" text-anchor="middle" textLength="21.10" lengthAdjust="spacingAndGlyphs" stroke="#555" stroke-width="0.18">center</text>
<text x="212.60" y="653.85" font-size="7.4" fill="#555" text-anchor="middle" textLength="19.50" lengthAdjust="spacingAndGlyphs" stroke="#555" stroke-width="0.18">2.0Kb</text>
<text x="93.65" y="542.20" font-size="9.9" fill="#222" textLength="69.50" lengthAdjust="spacingAndGlyphs" stroke="#222" stroke-width="0.18">DNA replication</text>
<line x1="155.10" y1="560.80" x2="168.80" y2="560.80" stroke="#c9475a" stroke-width="1.3"/>
<text x="172.20" y="563.30" font-size="7.3" fill="#333" textLength="10.80" lengthAdjust="spacingAndGlyphs" stroke="#333" stroke-width="0.18">WT</text>
<line x1="155.10" y1="569.80" x2="168.80" y2="569.80" stroke="#6db37a" stroke-width="1.3"/>
<text x="172.20" y="572.30" font-size="7.3" fill="#333" textLength="33.70" lengthAdjust="spacingAndGlyphs" stroke="#333" stroke-width="0.18">Hoxa9 KO</text>
<line x1="155.10" y1="578.80" x2="168.80" y2="578.80" stroke="#4a6ba0" stroke-width="1.3"/>
<text x="172.20" y="581.30" font-size="7.3" fill="#333" textLength="43.10" lengthAdjust="spacingAndGlyphs" stroke="#333" stroke-width="0.18">B catenin KO</text>
<line x1="155.10" y1="588.30" x2="168.80" y2="588.30" stroke="#7a5a8e" stroke-width="1.3"/>
<text x="172.20" y="590.80" font-size="7.3" fill="#333" textLength="32.30" lengthAdjust="spacingAndGlyphs" stroke="#333" stroke-width="0.18">Prmt1 KO</text>
<line x1="155.10" y1="597.10" x2="168.80" y2="597.10" stroke="#333333" stroke-width="1.3"/>
<text x="172.20" y="599.60" font-size="7.3" fill="#333" textLength="14.80" lengthAdjust="spacingAndGlyphs" stroke="#333" stroke-width="0.18">dKO</text>
<polyline points="41.80,766.91 42.60,766.73 43.40,766.90 44.20,766.76 45.00,766.97 45.80,766.79 46.60,766.90 47.40,767.00 48.20,766.80 49.00,766.76 49.80,766.95 50.60,766.75 51.40,766.93 52.20,766.74 53.00,766.65 53.80,766.66 54.60,766.62 55.40,766.85 56.20,766.87 57.00,766.75 57.80,766.73 58.60,766.48 59.40,766.65 60.20,766.72 61.00,766.49 61.80,766.73 62.60,766.68 63.40,766.60 64.20,766.58 65.00,766.42 65.80,766.63 66.60,766.58 67.40,766.35 68.20,766.50 69.00,766.53 69.80,766.68 70.60,766.32 71.40,766.19 72.20,766.45 73.00,766.52 73.80,766.31 74.60,766.28 75.40,766.29 76.20,766.13 77.00,766.26 77.80,766.04 78.60,766.32 79.40,766.41 80.20,766.26 81.00,766.33 81.80,766.10 82.60,765.92 83.40,765.83 84.20,765.72 85.00,766.02 85.80,765.98 86.60,765.70 87.40,765.84 88.20,765.91 89.00,765.91 89.80,765.95 90.60,765.84 91.40,765.89 92.20,765.85 93.00,765.52 93.80,765.28 94.60,765.01 95.40,765.17 96.20,765.14 97.00,764.97 97.80,764.77 98.60,764.30 99.40,763.94 100.20,764.19 101.00,764.15 101.80,763.52 102.60,763.48 103.40,762.90 104.20,762.52 105.00,762.41 105.80,761.78 106.60,761.71 107.40,761.38 108.20,760.58 109.00,760.13 109.80,759.60 110.60,759.05 111.40,757.97 112.20,757.44 113.00,756.11 113.80,754.89 114.60,753.75 115.40,752.66 116.20,751.44 117.00,750.17 117.80,748.65 118.60,747.25 119.40,745.50 120.20,743.93 121.00,742.25 121.80,740.52 122.60,738.82 123.40,737.26 124.20,736.06 125.00,734.39 125.80,732.90 126.60,732.24 127.40,731.21 128.20,731.37 129.00,731.43 129.80,731.70 130.60,732.08 131.40,732.20 132.20,733.63 133.00,734.46 133.80,735.44 134.60,737.18 135.40,738.35 136.20,740.19 137.00,742.08 137.80,743.84 138.60,745.81 139.40,747.09 140.20,748.39 141.00,749.92 141.80,751.71 142.60,753.08 143.40,754.60 144.20,755.53 145.00,756.73 145.80,757.88 146.60,758.89 147.40,759.56 148.20,760.39 149.00,761.09 149.80,761.78 150.60,762.28 151.40,762.93 152.20,763.40 153.00,763.87 153.80,764.21 154.60,764.69 155.40,764.94 156.20,765.37 157.00,765.71 157.80,765.94 158.60,765.79 159.40,765.85 160.20,765.97 161.00,766.05 161.80,766.52 162.60,766.66 163.40,766.80 164.20,766.66 165.00,766.89 165.80,766.91 166.60,766.88 167.40,766.72 168.20,766.86 169.00,767.00 169.80,767.27 170.60,767.12 171.40,767.33 172.20,767.38 173.00,767.53 173.80,767.43 174.60,767.40 175.40,767.49 176.20,767.53 177.00,767.63 177.80,767.57 178.60,767.66 179.40,767.62 180.20,767.29 181.00,767.53 181.80,767.64 182.60,767.74 183.40,767.81 184.20,767.75 185.00,767.51 185.80,767.35 186.60,767.29 187.40,767.60 188.20,767.49 189.00,767.40 189.80,767.37 190.60,767.29 191.40,767.50 192.20,767.69 193.00,767.74 193.80,767.56 194.60,767.47 195.40,767.24 196.20,767.15 197.00,767.21 197.80,767.18 198.60,767.23 199.40,767.50 200.20,767.32 201.00,767.38 201.80,767.35 202.60,767.41 203.40,767.38 204.20,767.62 205.00,767.40 205.80,767.31 206.60,767.21 207.40,767.19 208.20,767.29 209.00,767.61 209.80,767.72 210.60,767.52 211.40,767.57 212.20,767.78" fill="none" stroke="#1c1c1c" stroke-width="1.1" stroke-linejoin="round"/>
<polyline points="41.80,766.40 42.60,766.36 43.40,766.57 44.20,766.70 45.00,766.75 45.80,766.82 46.60,766.86 47.40,766.85 48.20,766.56 49.00,766.53 49.80,766.65 50.60,766.50 51.40,766.77 52.20,766.75 53.00,766.79 53.80,766.86 54.60,766.94 55.40,766.92 56.20,766.63 57.00,766.70 57.80,766.75 58.60,766.78 59.40,766.62 60.20,766.48 61.00,766.65 61.80,766.77 62.60,766.70 63.40,766.41 64.20,766.65 65.00,766.41 65.80,766.55 66.60,766.51 67.40,766.33 68.20,766.55 69.00,766.73 69.80,766.34 70.60,766.32 71.40,766.53 72.20,766.21 73.00,766.18 73.80,766.46 74.60,766.17 75.40,766.42 76.20,766.41 77.00,766.14 77.80,766.17 78.60,766.01 79.40,766.08 80.20,766.29 81.00,766.14 81.80,765.98 82.60,765.85 83.40,765.82 84.20,765.75 85.00,765.97 85.80,766.00 86.60,765.66 87.40,765.78 88.20,765.82 89.00,765.69 89.80,765.54 90.60,765.43 91.40,765.30 92.20,765.42 93.00,765.41 93.80,765.00 94.60,764.85 95.40,764.84 96.20,764.71 97.00,764.70 97.80,764.29 98.60,764.14 99.40,763.68 100.20,763.59 101.00,763.51 101.80,763.43 102.60,763.24 103.40,763.02 104.20,762.64 105.00,762.13 105.80,761.83 106.60,761.39 107.40,760.99 108.20,760.36 109.00,759.77 109.80,758.83 110.60,758.12 111.40,757.71 112.20,756.55 113.00,755.86 113.80,754.66 114.60,753.50 115.40,752.35 116.20,751.14 117.00,749.60 117.80,747.52 118.60,746.13 119.40,744.02 120.20,741.72 121.00,739.74 121.80,737.57 122.60,735.85 123.40,733.91 124.20,732.16 125.00,730.03 125.80,728.13 126.60,726.97 127.40,725.94 128.20,724.29 129.00,723.67 129.80,723.83 130.60,724.03 131.40,725.09 132.20,726.35 133.00,727.42 133.80,728.77 134.60,730.87 135.40,733.14 136.20,735.27 137.00,737.03 137.80,739.45 138.60,741.52 139.40,744.13 140.20,746.59 141.00,748.51 141.80,749.99 142.60,751.85 143.40,753.66 144.20,755.42 145.00,756.35 145.80,757.74 146.60,759.02 147.40,760.22 148.20,760.79 149.00,761.32 149.80,761.94 150.60,762.81 151.40,763.17 152.20,763.83 153.00,764.32 153.80,764.66 154.60,765.17 155.40,765.60 156.20,765.96 157.00,765.86 157.80,766.18 158.60,766.21 159.40,766.38 160.20,766.70 161.00,766.70 161.80,766.87 162.60,766.79 163.40,766.70 164.20,766.89 165.00,766.75 165.80,767.03 166.60,767.26 167.40,767.40 168.20,767.11 169.00,766.95 169.80,767.15 170.60,767.10 171.40,767.09 172.20,767.30 173.00,767.16 173.80,767.27 174.60,767.41 175.40,767.51 176.20,767.67 177.00,767.62 177.80,767.52 178.60,767.61 179.40,767.47 180.20,767.53 181.00,767.39 181.80,767.55 182.60,767.55 183.40,767.46 184.20,767.38 185.00,767.44 185.80,767.33 186.60,767.56 187.40,767.26 188.20,767.13 189.00,767.31 189.80,767.61 190.60,767.53 191.40,767.48 192.20,767.35 193.00,767.61 193.80,767.47 194.60,767.65 195.40,767.80 196.20,767.73 197.00,767.37 197.80,767.31 198.60,767.27 199.40,767.55 200.20,767.32 201.00,767.30 201.80,767.27 202.60,767.53 203.40,767.56 204.20,767.63 205.00,767.69 205.80,767.61 206.60,767.65 207.40,767.62 208.20,767.49 209.00,767.41 209.80,767.71 210.60,767.80 211.40,767.70 212.20,767.46" fill="none" stroke="#6b3d8c" stroke-width="1.1" stroke-linejoin="round"/>
<polyline points="41.80,766.55 42.60,766.34 43.40,766.62 44.20,766.66 45.00,766.56 45.80,766.62 46.60,766.62 47.40,766.37 48.20,766.44 49.00,766.44 49.80,766.29 50.60,766.52 51.40,766.51 52.20,766.48 53.00,766.47 53.80,766.35 54.60,766.65 55.40,766.44 56.20,766.41 57.00,766.49 57.80,766.44 58.60,766.49 59.40,766.68 60.20,766.78 61.00,766.63 61.80,766.51 62.60,766.54 63.40,766.34 64.20,766.37 65.00,766.23 65.80,766.48 66.60,766.33 67.40,766.46 68.20,766.14 69.00,765.95 69.80,766.24 70.60,766.06 71.40,765.89 72.20,766.09 73.00,766.35 73.80,766.37 74.60,766.41 75.40,766.29 76.20,765.87 77.00,765.81 77.80,765.63 78.60,765.47 79.40,765.46 80.20,765.58 81.00,765.81 81.80,765.55 82.60,765.59 83.40,765.62 84.20,765.74 85.00,765.33 85.80,765.38 86.60,765.50 87.40,765.43 88.20,764.95 89.00,764.89 89.80,764.83 90.60,764.84 91.40,764.66 92.20,764.76 93.00,764.77 93.80,764.43 94.60,764.07 95.40,764.19 96.20,764.25 97.00,763.89 97.80,763.74 98.60,763.35 99.40,763.05 100.20,763.14 101.00,762.85 101.80,762.55 102.60,762.08 103.40,761.78 104.20,761.70 105.00,761.46 105.80,761.23 106.60,760.53 107.40,760.26 108.20,759.48 109.00,758.69 109.80,758.39 110.60,757.27 111.40,756.60 112.20,755.48 113.00,754.33 113.80,753.75 114.60,752.33 115.40,750.92 116.20,749.56 117.00,748.10 117.80,746.12 118.60,744.48 119.40,742.21 120.20,740.28 121.00,738.26 121.80,735.81 122.60,733.33 123.40,731.32 124.20,728.77 125.00,726.38 125.80,725.03 126.60,722.75 127.40,721.47 128.20,720.96 129.00,720.53 129.80,720.38 130.60,720.19 131.40,721.41 132.20,722.62 133.00,724.85 133.80,727.34 134.60,729.66 135.40,732.98 136.20,736.21 137.00,739.15 137.80,741.81 138.60,744.53 139.40,746.70 140.20,748.80 141.00,750.90 141.80,752.38 142.60,754.45 143.40,755.71 144.20,756.99 145.00,758.24 145.80,759.43 146.60,760.16 147.40,760.83 148.20,761.61 149.00,761.95 149.80,762.50 150.60,763.25 151.40,763.43 152.20,763.88 153.00,763.92 153.80,764.11 154.60,764.48 155.40,765.01 156.20,765.44 157.00,765.73 157.80,765.60 158.60,765.64 159.40,765.82 160.20,766.15 161.00,766.32 161.80,766.44 162.60,766.35 163.40,766.37 164.20,766.63 165.00,766.57 165.80,766.78 166.60,766.98 167.40,767.14 168.20,767.24 169.00,767.10 169.80,767.05 170.60,766.89 171.40,766.95 172.20,767.04 173.00,766.93 173.80,766.81 174.60,766.84 175.40,767.02 176.20,767.26 177.00,766.98 177.80,767.22 178.60,767.06 179.40,767.27 180.20,767.19 181.00,767.43 181.80,767.14 182.60,767.20 183.40,767.11 184.20,767.08 185.00,767.37 185.80,767.19 186.60,767.05 187.40,767.23 188.20,767.51 189.00,767.62 189.80,767.34 190.60,767.43 191.40,767.35 192.20,767.37 193.00,767.49 193.80,767.50 194.60,767.29 195.40,767.34 196.20,767.51 197.00,767.70 197.80,767.48 198.60,767.53 199.40,767.51 200.20,767.42 201.00,767.51 201.80,767.36 202.60,767.44 203.40,767.38 204.20,767.21 205.00,767.28 205.80,767.32 206.60,767.64 207.40,767.82 208.20,767.80 209.00,767.85 209.80,767.80 210.60,767.52 211.40,767.64 212.20,767.60" fill="none" stroke="#2f5ca6" stroke-width="1.1" stroke-linejoin="round"/>
<polyline points="41.80,766.58 42.60,766.44 43.40,766.64 44.20,766.55 45.00,766.48 45.80,766.55 46.60,766.76 47.40,766.94 48.20,766.81 49.00,766.46 49.80,766.42 50.60,766.38 51.40,766.64 52.20,766.53 53.00,766.54 53.80,766.63 54.60,766.56 55.40,766.47 56.20,766.43 57.00,766.66 57.80,766.61 58.60,766.63 59.40,766.69 60.20,766.57 61.00,766.61 61.80,766.58 62.60,766.69 63.40,766.74 64.20,766.34 65.00,766.52 65.80,766.28 66.60,766.52 67.40,766.38 68.20,766.58 69.00,766.51 69.80,766.48 70.60,766.40 71.40,766.28 72.20,766.47 73.00,766.41 73.80,766.07 74.60,766.18 75.40,766.21 76.20,766.11 77.00,765.83 77.80,766.06 78.60,766.00 79.40,765.62 80.20,765.63 81.00,765.44 81.80,765.47 82.60,765.31 83.40,765.18 84.20,765.26 85.00,765.19 85.80,764.99 86.60,765.24 87.40,765.10 88.20,764.80 89.00,765.00 89.80,764.74 90.60,764.52 91.40,764.15 92.20,763.97 93.00,763.83 93.80,763.62 94.60,763.68 95.40,763.53 96.20,763.67 97.00,763.55 97.80,762.96 98.60,762.73 99.40,762.36 100.20,762.35 101.00,762.03 101.80,761.76 102.60,761.56 103.40,761.00 104.20,760.42 105.00,759.90 105.80,759.53 106.60,759.16 107.40,758.28 108.20,757.64 109.00,756.96 109.80,756.17 110.60,755.15 111.40,754.65 112.20,753.74 113.00,752.77 113.80,751.05 114.60,749.46 115.40,747.63 116.20,745.49 117.00,743.64 117.80,741.03 118.60,739.20 119.40,736.38 120.20,732.98 121.00,730.44 121.80,727.06 122.60,724.07 123.40,719.91 124.20,716.08 125.00,713.11 125.80,710.20 126.60,707.70 127.40,705.32 128.20,703.30 129.00,701.98 129.80,701.39 130.60,702.32 131.40,703.39 132.20,705.64 133.00,707.63 133.80,710.04 134.60,712.78 135.40,716.79 136.20,720.49 137.00,724.14 137.80,727.85 138.60,731.58 139.40,734.90 140.20,737.27 141.00,740.41 141.80,742.81 142.60,745.35 143.40,746.92 144.20,748.85 145.00,750.64 145.80,752.48 146.60,753.99 147.40,755.31 148.20,756.15 149.00,756.89 149.80,757.77 150.60,758.72 151.40,759.32 152.20,760.11 153.00,760.67 153.80,761.14 154.60,761.26 155.40,761.61 156.20,762.06 157.00,762.50 157.80,763.02 158.60,763.37 159.40,763.50 160.20,763.71 161.00,763.95 161.80,764.05 162.60,764.58 163.40,764.95 164.20,764.92 165.00,765.04 165.80,765.06 166.60,765.23 167.40,765.40 168.20,765.73 169.00,765.76 169.80,765.96 170.60,766.20 171.40,766.07 172.20,766.25 173.00,766.45 173.80,766.46 174.60,766.66 175.40,766.44 176.20,766.37 177.00,766.30 177.80,766.47 178.60,766.53 179.40,766.51 180.20,766.50 181.00,766.58 181.80,766.69 182.60,766.99 183.40,766.82 184.20,766.99 185.00,766.82 185.80,766.87 186.60,766.73 187.40,767.04 188.20,766.98 189.00,767.15 189.80,767.17 190.60,767.39 191.40,767.31 192.20,767.22 193.00,767.49 193.80,767.38 194.60,767.40 195.40,767.30 196.20,767.51 197.00,767.38 197.80,767.26 198.60,767.09 199.40,767.18 200.20,767.31 201.00,767.48 201.80,767.61 202.60,767.28 203.40,767.38 204.20,767.30 205.00,767.40 205.80,767.29 206.60,767.33 207.40,767.37 208.20,767.64 209.00,767.53 209.80,767.56 210.60,767.39 211.40,767.44 212.20,767.24" fill="none" stroke="#3aa64f" stroke-width="1.1" stroke-linejoin="round"/>
<polyline points="41.80,766.81 42.60,766.74 43.40,766.49 44.20,766.44 45.00,766.56 45.80,766.40 46.60,766.46 47.40,766.44 48.20,766.44 49.00,766.41 49.80,766.54 50.60,766.62 51.40,766.85 52.20,766.61 53.00,766.52 53.80,766.56 54.60,766.76 55.40,766.94 56.20,766.73 57.00,766.52 57.80,766.76 58.60,766.77 59.40,766.63 60.20,766.61 61.00,766.77 61.80,766.63 62.60,766.75 63.40,766.70 64.20,766.40 65.00,766.62 65.80,766.41 66.60,766.38 67.40,766.22 68.20,766.31 69.00,766.45 69.80,766.61 70.60,766.53 71.40,766.48 72.20,766.11 73.00,766.03 73.80,765.83 74.60,766.14 75.40,766.22 76.20,766.08 77.00,765.87 77.80,765.76 78.60,765.83 79.40,765.97 80.20,765.99 81.00,765.45 81.80,765.34 82.60,765.47 83.40,765.49 84.20,765.44 85.00,765.11 85.80,764.89 86.60,764.56 87.40,764.64 88.20,764.51 89.00,764.28 89.80,764.02 90.60,763.79 91.40,763.40 92.20,763.03 93.00,762.49 93.80,762.54 94.60,762.37 95.40,761.75 96.20,761.56 97.00,760.78 97.80,760.70 98.60,760.33 99.40,759.46 100.20,759.10 101.00,758.63 101.80,758.02 102.60,757.05 103.40,756.25 104.20,755.24 105.00,754.40 105.80,753.40 106.60,752.88 107.40,752.12 108.20,750.64 109.00,749.47 109.80,747.93 110.60,746.99 111.40,745.08 112.20,743.90 113.00,741.96 113.80,739.77 114.60,737.61 115.40,735.74 116.20,733.06 117.00,730.61 117.80,727.76 118.60,724.32 119.40,721.17 120.20,717.45 121.00,714.20 121.80,710.97 122.60,706.40 123.40,702.99 124.20,700.02 125.00,695.92 125.80,693.88 126.60,691.18 127.40,690.50 128.20,689.06 129.00,689.00 129.80,689.43 130.60,691.59 131.40,693.37 132.20,695.91 133.00,699.34 133.80,703.31 134.60,707.00 135.40,710.18 136.20,714.11 137.00,718.18 137.80,721.17 138.60,725.20 139.40,728.90 140.20,731.56 141.00,734.79 141.80,737.12 142.60,739.44 143.40,742.40 144.20,744.65 145.00,746.36 145.80,748.13 146.60,749.74 147.40,751.68 148.20,753.32 149.00,754.31 149.80,755.63 150.60,756.55 151.40,757.78 152.20,758.61 153.00,759.55 153.80,760.33 154.60,761.12 155.40,761.39 156.20,761.86 157.00,762.37 157.80,762.81 158.60,763.17 159.40,763.45 160.20,764.16 161.00,764.26 161.80,764.52 162.60,764.89 163.40,765.19 164.20,765.33 165.00,765.31 165.80,765.48 166.60,765.57 167.40,765.95 168.20,765.88 169.00,766.19 169.80,766.52 170.60,766.29 171.40,766.50 172.20,766.49 173.00,766.58 173.80,766.55 174.60,766.85 175.40,766.79 176.20,766.93 177.00,766.75 177.80,766.81 178.60,767.19 179.40,766.97 180.20,767.10 181.00,767.20 181.80,767.06 182.60,767.31 183.40,767.51 184.20,767.45 185.00,767.22 185.80,767.19 186.60,767.43 187.40,767.35 188.20,767.38 189.00,767.52 189.80,767.31 190.60,767.20 191.40,767.18 192.20,767.16 193.00,767.50 193.80,767.42 194.60,767.20 195.40,767.27 196.20,767.57 197.00,767.44 197.80,767.32 198.60,767.38 199.40,767.60 200.20,767.35 201.00,767.46 201.80,767.40 202.60,767.40 203.40,767.28 204.20,767.20 205.00,767.39 205.80,767.32 206.60,767.55 207.40,767.69 208.20,767.84 209.00,767.79 209.80,767.92 210.60,767.83 211.40,767.70 212.20,767.68" fill="none" stroke="#c8303f" stroke-width="1.1" stroke-linejoin="round"/>
<line x1="41.30" y1="679.76" x2="41.30" y2="773.10" stroke="#111" stroke-width="1.1"/>
<line x1="41.30" y1="772.60" x2="212.90" y2="772.60" stroke="#111" stroke-width="1.1"/>
<line x1="38.00" y1="769.00" x2="41.30" y2="769.00" stroke="#111" stroke-width="1.0"/>
<text x="34.40" y="771.70" font-size="7.4" fill="#555" text-anchor="end" textLength="3.40" lengthAdjust="spacingAndGlyphs" stroke="#555" stroke-width="0.18">0</text>
<line x1="38.00" y1="740.42" x2="41.30" y2="740.42" stroke="#111" stroke-width="1.0"/>
<text x="34.40" y="743.12" font-size="7.4" fill="#555" text-anchor="end" textLength="15.50" lengthAdjust="spacingAndGlyphs" stroke="#555" stroke-width="0.18">1000</text>
<line x1="38.00" y1="711.84" x2="41.30" y2="711.84" stroke="#111" stroke-width="1.0"/>
<text x="34.40" y="714.54" font-size="7.4" fill="#555" text-anchor="end" textLength="15.50" lengthAdjust="spacingAndGlyphs" stroke="#555" stroke-width="0.18">2000</text>
<line x1="38.00" y1="683.26" x2="41.30" y2="683.26" stroke="#111" stroke-width="1.0"/>
<text x="34.40" y="685.96" font-size="7.4" fill="#555" text-anchor="end" textLength="15.50" lengthAdjust="spacingAndGlyphs" stroke="#555" stroke-width="0.18">3000</text>
<line x1="41.30" y1="772.60" x2="41.30" y2="775.80" stroke="#111" stroke-width="1.0"/>
<line x1="127.30" y1="772.60" x2="127.30" y2="775.80" stroke="#111" stroke-width="1.0"/>
<line x1="212.90" y1="772.60" x2="212.90" y2="775.80" stroke="#111" stroke-width="1.0"/>
<text x="41.20" y="786.10" font-size="7.4" fill="#555" text-anchor="middle" textLength="13.50" lengthAdjust="spacingAndGlyphs" stroke="#555" stroke-width="0.18">−2.0</text>
<text x="127.20" y="786.10" font-size="7.4" fill="#555" text-anchor="middle" textLength="21.10" lengthAdjust="spacingAndGlyphs" stroke="#555" stroke-width="0.18">center</text>
<text x="212.60" y="786.10" font-size="7.4" fill="#555" text-anchor="middle" textLength="19.50" lengthAdjust="spacingAndGlyphs" stroke="#555" stroke-width="0.18">2.0Kb</text>
<text x="103.50" y="677.60" font-size="9.9" fill="#222" textLength="49.80" lengthAdjust="spacingAndGlyphs" stroke="#222" stroke-width="0.18">DNA repair</text>
<line x1="155.10" y1="692.50" x2="168.80" y2="692.50" stroke="#c9475a" stroke-width="1.3"/>
<text x="172.20" y="695.00" font-size="7.3" fill="#333" textLength="10.80" lengthAdjust="spacingAndGlyphs" stroke="#333" stroke-width="0.18">WT</text>
<line x1="155.10" y1="701.30" x2="168.80" y2="701.30" stroke="#6db37a" stroke-width="1.3"/>
<text x="172.20" y="703.80" font-size="7.3" fill="#333" textLength="33.70" lengthAdjust="spacingAndGlyphs" stroke="#333" stroke-width="0.18">Hoxa9 KO</text>
<line x1="155.10" y1="710.80" x2="168.80" y2="710.80" stroke="#4a6ba0" stroke-width="1.3"/>
<text x="172.20" y="713.30" font-size="7.3" fill="#333" textLength="43.10" lengthAdjust="spacingAndGlyphs" stroke="#333" stroke-width="0.18">B catenin KO</text>
<line x1="155.10" y1="720.20" x2="168.80" y2="720.20" stroke="#7a5a8e" stroke-width="1.3"/>
<text x="172.20" y="722.70" font-size="7.3" fill="#333" textLength="32.30" lengthAdjust="spacingAndGlyphs" stroke="#333" stroke-width="0.18">Prmt1 KO</text>
<line x1="155.10" y1="729.60" x2="168.80" y2="729.60" stroke="#333333" stroke-width="1.3"/>
<text x="172.20" y="732.10" font-size="7.3" fill="#333" textLength="14.80" lengthAdjust="spacingAndGlyphs" stroke="#333" stroke-width="0.18">dKO</text>
<line x1="268.70" y1="554.20" x2="511.00" y2="554.20" stroke="#e4e4e4" stroke-width="0.8"/>
<line x1="268.70" y1="565.80" x2="511.00" y2="565.80" stroke="#e6e6e6" stroke-width="0.6"/>
<line x1="268.70" y1="575.80" x2="511.00" y2="575.80" stroke="#8486c4" stroke-width="0.6"/>
<line x1="268.70" y1="587.00" x2="511.00" y2="587.00" stroke="#e6e6e6" stroke-width="0.6"/>
<line x1="268.70" y1="597.30" x2="511.00" y2="597.30" stroke="#e6e6e6" stroke-width="0.6"/>
<line x1="268.70" y1="608.50" x2="511.00" y2="608.50" stroke="#e6e6e6" stroke-width="0.6"/>
<line x1="268.70" y1="615.40" x2="511.00" y2="615.40" stroke="#ececec" stroke-width="0.7"/>
<text x="269.90" y="556.90" font-size="2.6" fill="#777" textLength="9.50" lengthAdjust="spacingAndGlyphs" stroke="#777" stroke-width="0.18">0 - 2000</text>
<text x="269.90" y="568.50" font-size="2.6" fill="#777" textLength="9.50" lengthAdjust="spacingAndGlyphs" stroke="#777" stroke-width="0.18">0 - 2000</text>
<text x="269.90" y="578.50" font-size="2.6" fill="#777" textLength="9.50" lengthAdjust="spacingAndGlyphs" stroke="#777" stroke-width="0.18">0 - 2000</text>
<text x="269.90" y="589.70" font-size="2.6" fill="#777" textLength="9.50" lengthAdjust="spacingAndGlyphs" stroke="#777" stroke-width="0.18">0 - 2000</text>
<text x="269.90" y="600.00" font-size="2.6" fill="#777" textLength="9.50" lengthAdjust="spacingAndGlyphs" stroke="#777" stroke-width="0.18">0 - 2000</text>
<polygon points="346.90,565.50 348.59,561.65 349.50,558.50 350.41,562.00 352.10,565.50" fill="#c0402e"/>
<polygon points="341.90,565.50 342.94,564.95 343.50,564.50 344.06,565.00 345.10,565.50" fill="#c0402e"/>
<rect x="397.95" y="564.88" width="1.52" height="0.62" fill="#d9a090"/>
<rect x="400.57" y="564.90" width="1.19" height="0.60" fill="#d9a090"/>
<rect x="345.13" y="564.90" width="1.23" height="0.60" fill="#d9a090"/>
<rect x="465.15" y="565.06" width="0.90" height="0.44" fill="#d9a090"/>
<rect x="326.59" y="564.78" width="1.29" height="0.72" fill="#d9a090"/>
<rect x="316.96" y="564.71" width="1.56" height="0.79" fill="#d9a090"/>
<rect x="437.72" y="564.85" width="0.76" height="0.65" fill="#d9a090"/>
<rect x="311.66" y="564.89" width="0.66" height="0.61" fill="#d9a090"/>
<rect x="346.23" y="565.00" width="0.63" height="0.50" fill="#d9a090"/>
<rect x="400.23" y="564.92" width="1.44" height="0.58" fill="#d9a090"/>
<polygon points="347.10,575.50 348.66,573.52 349.50,571.90 350.34,573.70 351.90,575.50" fill="#3a3f98"/>
<polygon points="341.90,575.50 342.94,574.67 343.50,574.00 344.06,574.75 345.10,575.50" fill="#3a3f98"/>
<rect x="420.74" y="574.97" width="1.10" height="0.53" fill="#b8b8d0"/>
<rect x="446.15" y="575.01" width="0.88" height="0.49" fill="#b8b8d0"/>
<rect x="505.58" y="574.90" width="1.44" height="0.60" fill="#b8b8d0"/>
<rect x="454.19" y="575.04" width="0.83" height="0.46" fill="#b8b8d0"/>
<rect x="379.95" y="575.09" width="1.37" height="0.41" fill="#b8b8d0"/>
<rect x="399.69" y="574.93" width="0.99" height="0.57" fill="#b8b8d0"/>
<polygon points="347.50,586.70 348.80,584.72 349.50,583.10 350.20,584.90 351.50,586.70" fill="#5cae4f"/>
<polygon points="341.90,586.70 342.94,586.15 343.50,585.70 344.06,586.20 345.10,586.70" fill="#5cae4f"/>
<rect x="498.56" y="586.13" width="0.60" height="0.57" fill="#bcd8b8"/>
<rect x="365.88" y="586.12" width="1.07" height="0.58" fill="#bcd8b8"/>
<rect x="502.52" y="586.22" width="0.67" height="0.48" fill="#bcd8b8"/>
<rect x="440.30" y="586.14" width="0.87" height="0.56" fill="#bcd8b8"/>
<rect x="344.15" y="586.23" width="1.56" height="0.47" fill="#bcd8b8"/>
<rect x="463.10" y="586.28" width="0.85" height="0.42" fill="#bcd8b8"/>
<polygon points="344.00,597.00 346.20,595.80 348.40,595.40 349.50,595.00 351.15,595.60 353.35,596.00 355.00,597.00" fill="#111111"/>
<rect x="303.57" y="596.54" width="2.19" height="0.46" fill="#111111"/>
<rect x="320.91" y="596.04" width="1.49" height="0.96" fill="#111111"/>
<rect x="323.85" y="595.87" width="0.86" height="1.13" fill="#111111"/>
<rect x="426.37" y="596.48" width="1.44" height="0.52" fill="#111111"/>
<rect x="328.87" y="596.33" width="2.54" height="0.67" fill="#111111"/>
<rect x="462.51" y="596.30" width="2.37" height="0.70" fill="#111111"/>
<rect x="328.38" y="596.21" width="2.31" height="0.79" fill="#111111"/>
<rect x="425.95" y="596.50" width="2.58" height="0.50" fill="#111111"/>
<rect x="328.96" y="596.34" width="2.15" height="0.66" fill="#111111"/>
<rect x="355.14" y="596.30" width="0.75" height="0.70" fill="#111111"/>
<rect x="301.09" y="596.02" width="1.09" height="0.98" fill="#111111"/>
<rect x="416.77" y="596.23" width="1.51" height="0.77" fill="#111111"/>
<rect x="497.75" y="596.12" width="1.75" height="0.88" fill="#111111"/>
<rect x="476.79" y="596.42" width="0.91" height="0.58" fill="#111111"/>
<rect x="486.28" y="595.78" width="1.10" height="1.22" fill="#111111"/>
<rect x="323.65" y="595.86" width="2.48" height="1.14" fill="#111111"/>
<polygon points="347.30,608.20 348.73,606.99 349.50,606.00 350.27,607.10 351.70,608.20" fill="#4a3c96"/>
<rect x="363.56" y="607.61" width="1.48" height="0.59" fill="#b8b8d0"/>
<rect x="435.71" y="607.72" width="0.70" height="0.48" fill="#b8b8d0"/>
<rect x="335.56" y="607.61" width="0.84" height="0.59" fill="#b8b8d0"/>
<rect x="453.62" y="607.75" width="1.42" height="0.45" fill="#b8b8d0"/>
<rect x="434.45" y="607.74" width="0.78" height="0.46" fill="#b8b8d0"/>
<rect x="456.42" y="607.79" width="0.83" height="0.41" fill="#b8b8d0"/>
<text x="303.30" y="563.00" font-size="7.3" fill="#c23a48" textLength="11.50" lengthAdjust="spacingAndGlyphs" stroke="#c23a48" stroke-width="0.18">WT</text>
<text x="283.50" y="573.60" font-size="7.3" fill="#4a62a6" textLength="40.90" lengthAdjust="spacingAndGlyphs" stroke="#4a62a6" stroke-width="0.18">β-cateninKO</text>
<text x="281.20" y="585.50" font-size="7.3" fill="#62b455" textLength="31.70" lengthAdjust="spacingAndGlyphs" stroke="#62b455" stroke-width="0.18">Hoxa9KO</text>
<text x="297.50" y="594.70" font-size="7.3" fill="#222222" textLength="15.40" lengthAdjust="spacingAndGlyphs" stroke="#222222" stroke-width="0.18">dKO</text>
<text x="283.50" y="607.20" font-size="7.3" fill="#7c4a98" textLength="29.40" lengthAdjust="spacingAndGlyphs" stroke="#7c4a98" stroke-width="0.18">Prmt1KO</text>
<line x1="269.60" y1="612.30" x2="288.80" y2="612.30" stroke="#3a3a8a" stroke-width="0.7"/>
<polyline points="274.80,611.20 273.60,612.30 274.80,613.40" fill="none" stroke="#3a3a8a" stroke-width="0.45"/>
<polyline points="281.80,611.20 280.60,612.30 281.80,613.40" fill="none" stroke="#3a3a8a" stroke-width="0.45"/>
<line x1="348.40" y1="612.30" x2="479.70" y2="612.30" stroke="#3a3a8a" stroke-width="0.7"/>
<polyline points="353.60,611.20 352.40,612.30 353.60,613.40" fill="none" stroke="#3a3a8a" stroke-width="0.45"/>
<polyline points="360.60,611.20 359.40,612.30 360.60,613.40" fill="none" stroke="#3a3a8a" stroke-width="0.45"/>
<polyline points="367.60,611.20 366.40,612.30 367.60,613.40" fill="none" stroke="#3a3a8a" stroke-width="0.45"/>
<polyline points="374.60,611.20 373.40,612.30 374.60,613.40" fill="none" stroke="#3a3a8a" stroke-width="0.45"/>
<polyline points="381.60,611.20 380.40,612.30 381.60,613.40" fill="none" stroke="#3a3a8a" stroke-width="0.45"/>
<polyline points="388.60,611.20 387.40,612.30 388.60,613.40" fill="none" stroke="#3a3a8a" stroke-width="0.45"/>
<polyline points="395.60,611.20 394.40,612.30 395.60,613.40" fill="none" stroke="#3a3a8a" stroke-width="0.45"/>
<polyline points="402.60,611.20 401.40,612.30 402.60,613.40" fill="none" stroke="#3a3a8a" stroke-width="0.45"/>
<polyline points="409.60,611.20 408.40,612.30 409.60,613.40" fill="none" stroke="#3a3a8a" stroke-width="0.45"/>
<polyline points="416.60,611.20 415.40,612.30 416.60,613.40" fill="none" stroke="#3a3a8a" stroke-width="0.45"/>
<polyline points="423.60,611.20 422.40,612.30 423.60,613.40" fill="none" stroke="#3a3a8a" stroke-width="0.45"/>
<polyline points="430.60,611.20 429.40,612.30 430.60,613.40" fill="none" stroke="#3a3a8a" stroke-width="0.45"/>
<polyline points="437.60,611.20 436.40,612.30 437.60,613.40" fill="none" stroke="#3a3a8a" stroke-width="0.45"/>
<polyline points="444.60,611.20 443.40,612.30 444.60,613.40" fill="none" stroke="#3a3a8a" stroke-width="0.45"/>
<polyline points="451.60,611.20 450.40,612.30 451.60,613.40" fill="none" stroke="#3a3a8a" stroke-width="0.45"/>
<polyline points="458.60,611.20 457.40,612.30 458.60,613.40" fill="none" stroke="#3a3a8a" stroke-width="0.45"/>
<polyline points="465.60,611.20 464.40,612.30 465.60,613.40" fill="none" stroke="#3a3a8a" stroke-width="0.45"/>
<polyline points="472.60,611.20 471.40,612.30 472.60,613.40" fill="none" stroke="#3a3a8a" stroke-width="0.45"/>
<rect x="275.00" y="610.60" width="1.60" height="3.40" fill="#34348a"/>
<rect x="283.50" y="611.00" width="5.30" height="2.60" fill="#34348a"/>
<rect x="348.40" y="611.00" width="3.10" height="2.60" fill="#34348a"/>
<rect x="369.50" y="610.60" width="1.60" height="3.40" fill="#34348a"/>
<rect x="381.20" y="610.60" width="1.60" height="3.40" fill="#34348a"/>
<rect x="393.10" y="610.60" width="1.60" height="3.40" fill="#34348a"/>
<rect x="404.90" y="610.60" width="1.60" height="3.40" fill="#34348a"/>
<rect x="416.60" y="610.60" width="1.60" height="3.40" fill="#34348a"/>
<rect x="426.10" y="610.60" width="1.60" height="3.40" fill="#34348a"/>
<rect x="428.40" y="610.60" width="1.60" height="3.40" fill="#34348a"/>
<rect x="430.80" y="610.60" width="1.60" height="3.40" fill="#34348a"/>
<rect x="440.20" y="610.60" width="1.60" height="3.40" fill="#34348a"/>
<rect x="450.30" y="610.60" width="1.60" height="3.40" fill="#34348a"/>
<rect x="463.80" y="610.60" width="1.60" height="3.40" fill="#34348a"/>
<rect x="471.30" y="611.00" width="8.40" height="2.60" fill="#34348a"/>
<text x="341.00" y="623.60" font-size="7.3" fill="#333" textLength="19.00" lengthAdjust="spacingAndGlyphs" stroke="#333" stroke-width="0.18">Mcm5</text>
<line x1="269.40" y1="631.00" x2="512.20" y2="631.00" stroke="#e4e4e4" stroke-width="0.8"/>
<line x1="269.40" y1="641.70" x2="512.20" y2="641.70" stroke="#e6e6e6" stroke-width="0.6"/>
<line x1="269.40" y1="652.00" x2="512.20" y2="652.00" stroke="#8486c4" stroke-width="0.6"/>
<line x1="269.40" y1="662.70" x2="512.20" y2="662.70" stroke="#e6e6e6" stroke-width="0.6"/>
<line x1="269.40" y1="673.00" x2="512.20" y2="673.00" stroke="#e6e6e6" stroke-width="0.6"/>
<line x1="269.40" y1="683.00" x2="512.20" y2="683.00" stroke="#e6e6e6" stroke-width="0.6"/>
<line x1="269.40" y1="691.00" x2="512.20" y2="691.00" stroke="#ececec" stroke-width="0.7"/>
<line x1="269.40" y1="631.00" x2="269.40" y2="691.00" stroke="#e6e6e6" stroke-width="0.7"/>
<line x1="512.20" y1="631.00" x2="512.20" y2="691.00" stroke="#e6e6e6" stroke-width="0.7"/>
<text x="270.60" y="633.70" font-size="2.6" fill="#777" textLength="9.50" lengthAdjust="spacingAndGlyphs" stroke="#777" stroke-width="0.18">0 - 2000</text>
<text x="270.60" y="644.40" font-size="2.6" fill="#777" textLength="9.50" lengthAdjust="spacingAndGlyphs" stroke="#777" stroke-width="0.18">0 - 2000</text>
<text x="270.60" y="654.70" font-size="2.6" fill="#777" textLength="9.50" lengthAdjust="spacingAndGlyphs" stroke="#777" stroke-width="0.18">0 - 2000</text>
<text x="270.60" y="665.40" font-size="2.6" fill="#777" textLength="9.50" lengthAdjust="spacingAndGlyphs" stroke="#777" stroke-width="0.18">0 - 2000</text>
<text x="270.60" y="675.70" font-size="2.6" fill="#777" textLength="9.50" lengthAdjust="spacingAndGlyphs" stroke="#777" stroke-width="0.18">0 - 2000</text>
<polygon points="488.30,641.40 490.90,639.37 492.30,637.70 493.70,639.55 496.30,641.40" fill="#c0402e"/>
<polygon points="462.70,641.40 463.74,640.96 464.30,640.60 464.86,641.00 465.90,641.40" fill="#c0402e"/>
<polygon points="419.70,641.40 420.74,640.91 421.30,640.50 421.86,640.95 422.90,641.40" fill="#c0402e"/>
<polygon points="402.70,641.40 403.74,640.96 404.30,640.60 404.86,641.00 405.90,641.40" fill="#c0402e"/>
<polygon points="347.70,641.40 348.74,640.96 349.30,640.60 349.86,641.00 350.90,641.40" fill="#c0402e"/>
<rect x="492.34" y="640.62" width="1.49" height="0.78" fill="#d9a090"/>
<rect x="325.93" y="640.76" width="1.02" height="0.64" fill="#d9a090"/>
<rect x="414.25" y="640.95" width="0.79" height="0.45" fill="#d9a090"/>
<rect x="397.34" y="640.91" width="1.06" height="0.49" fill="#d9a090"/>
<rect x="314.30" y="640.97" width="1.31" height="0.43" fill="#d9a090"/>
<rect x="392.72" y="640.79" width="1.33" height="0.61" fill="#d9a090"/>
<rect x="380.41" y="640.98" width="1.38" height="0.42" fill="#d9a090"/>
<rect x="425.93" y="640.74" width="1.22" height="0.66" fill="#d9a090"/>
<rect x="501.41" y="640.85" width="1.36" height="0.55" fill="#d9a090"/>
<rect x="382.33" y="640.77" width="1.26" height="0.63" fill="#d9a090"/>
<rect x="402.00" y="640.20" width="2.00" height="1.20" fill="#c8604a"/>
<rect x="436.00" y="640.20" width="4.00" height="1.20" fill="#c8604a"/>
<rect x="457.00" y="640.20" width="8.00" height="1.20" fill="#c8604a"/>
<rect x="462.00" y="640.20" width="5.00" height="1.20" fill="#c8604a"/>
<polygon points="488.50,651.70 490.97,648.79 492.30,646.40 493.63,649.05 496.10,651.70" fill="#3a3f98"/>
<rect x="385.30" y="651.28" width="1.07" height="0.42" fill="#b8b8d0"/>
<rect x="457.05" y="651.18" width="1.05" height="0.52" fill="#b8b8d0"/>
<rect x="443.61" y="651.26" width="0.78" height="0.44" fill="#b8b8d0"/>
<rect x="386.90" y="651.14" width="0.80" height="0.56" fill="#b8b8d0"/>
<rect x="349.72" y="651.28" width="0.64" height="0.42" fill="#b8b8d0"/>
<rect x="378.40" y="651.19" width="1.42" height="0.51" fill="#b8b8d0"/>
<polygon points="489.10,662.40 491.18,659.21 492.30,656.60 493.42,659.50 495.50,662.40" fill="#5cae4f"/>
<rect x="388.22" y="661.93" width="0.89" height="0.47" fill="#bcd8b8"/>
<rect x="383.59" y="661.84" width="1.15" height="0.56" fill="#bcd8b8"/>
<rect x="375.35" y="661.98" width="1.38" height="0.42" fill="#bcd8b8"/>
<rect x="455.13" y="661.83" width="0.84" height="0.57" fill="#bcd8b8"/>
<rect x="426.39" y="661.82" width="1.19" height="0.58" fill="#bcd8b8"/>
<rect x="497.50" y="661.97" width="1.58" height="0.43" fill="#bcd8b8"/>
<polygon points="487.80,672.70 489.60,671.50 491.40,671.10 492.30,670.70 493.65,671.30 495.45,671.70 496.80,672.70" fill="#111111"/>
<rect x="294.08" y="671.88" width="0.65" height="0.82" fill="#111111"/>
<rect x="465.01" y="671.61" width="2.55" height="1.09" fill="#111111"/>
<rect x="463.97" y="671.35" width="1.68" height="1.35" fill="#111111"/>
<rect x="505.53" y="671.55" width="1.29" height="1.15" fill="#111111"/>
<rect x="502.39" y="671.92" width="0.99" height="0.78" fill="#111111"/>
<rect x="298.61" y="671.83" width="0.99" height="0.87" fill="#111111"/>
<rect x="493.14" y="671.35" width="1.03" height="1.35" fill="#111111"/>
<rect x="304.87" y="671.77" width="0.94" height="0.93" fill="#111111"/>
<rect x="404.70" y="671.49" width="1.11" height="1.21" fill="#111111"/>
<rect x="377.05" y="671.40" width="1.49" height="1.30" fill="#111111"/>
<rect x="359.14" y="671.41" width="2.23" height="1.29" fill="#111111"/>
<rect x="484.43" y="671.61" width="1.43" height="1.09" fill="#111111"/>
<rect x="438.58" y="671.47" width="1.88" height="1.23" fill="#111111"/>
<rect x="335.47" y="672.00" width="1.42" height="0.70" fill="#111111"/>
<rect x="456.41" y="671.74" width="1.70" height="0.96" fill="#111111"/>
<rect x="468.86" y="672.19" width="1.86" height="0.51" fill="#111111"/>
<rect x="356.81" y="671.74" width="2.27" height="0.96" fill="#111111"/>
<rect x="337.73" y="671.35" width="0.76" height="1.35" fill="#111111"/>
<rect x="408.87" y="671.76" width="1.07" height="0.94" fill="#111111"/>
<rect x="408.60" y="671.83" width="1.50" height="0.87" fill="#111111"/>
<rect x="444.33" y="672.30" width="1.35" height="0.40" fill="#111111"/>
<rect x="459.57" y="672.16" width="2.33" height="0.54" fill="#111111"/>
<rect x="327.57" y="671.62" width="0.95" height="1.08" fill="#111111"/>
<rect x="383.31" y="671.88" width="0.76" height="0.82" fill="#111111"/>
<rect x="440.07" y="671.82" width="1.98" height="0.88" fill="#111111"/>
<rect x="403.68" y="671.74" width="1.65" height="0.96" fill="#111111"/>
<rect x="348.94" y="671.40" width="0.77" height="1.30" fill="#111111"/>
<rect x="480.22" y="671.44" width="1.60" height="1.26" fill="#111111"/>
<rect x="457.61" y="671.63" width="1.81" height="1.07" fill="#111111"/>
<rect x="347.54" y="671.98" width="1.30" height="0.72" fill="#111111"/>
<rect x="349.93" y="671.34" width="1.28" height="1.36" fill="#111111"/>
<rect x="369.30" y="671.88" width="2.23" height="0.82" fill="#111111"/>
<rect x="389.76" y="671.75" width="1.11" height="0.95" fill="#111111"/>
<rect x="344.47" y="672.21" width="1.03" height="0.49" fill="#111111"/>
<rect x="341.25" y="671.45" width="1.60" height="1.25" fill="#111111"/>
<rect x="306.44" y="671.84" width="0.84" height="0.86" fill="#111111"/>
<rect x="409.77" y="671.86" width="2.32" height="0.84" fill="#111111"/>
<rect x="340.20" y="671.45" width="1.10" height="1.25" fill="#111111"/>
<rect x="504.26" y="671.67" width="0.69" height="1.03" fill="#111111"/>
<rect x="464.47" y="672.02" width="1.32" height="0.68" fill="#111111"/>
<rect x="314.65" y="671.46" width="0.78" height="1.24" fill="#111111"/>
<rect x="448.84" y="671.90" width="1.96" height="0.80" fill="#111111"/>
<rect x="347.87" y="672.22" width="2.43" height="0.48" fill="#111111"/>
<rect x="429.90" y="672.13" width="2.55" height="0.57" fill="#111111"/>
<rect x="488.20" y="672.12" width="0.64" height="0.58" fill="#111111"/>
<rect x="419.97" y="672.16" width="2.06" height="0.54" fill="#111111"/>
<rect x="387.74" y="671.59" width="1.74" height="1.11" fill="#111111"/>
<rect x="456.20" y="671.48" width="1.81" height="1.22" fill="#111111"/>
<polygon points="489.70,682.70 491.39,681.27 492.30,680.10 493.21,681.40 494.90,682.70" fill="#4a3c96"/>
<rect x="434.55" y="682.23" width="0.73" height="0.47" fill="#b8b8d0"/>
<rect x="345.84" y="682.13" width="0.81" height="0.57" fill="#b8b8d0"/>
<rect x="405.24" y="682.24" width="1.22" height="0.46" fill="#b8b8d0"/>
<rect x="424.23" y="682.13" width="1.04" height="0.57" fill="#b8b8d0"/>
<rect x="393.75" y="682.17" width="1.34" height="0.53" fill="#b8b8d0"/>
<rect x="493.95" y="682.24" width="1.49" height="0.46" fill="#b8b8d0"/>
<text x="300.40" y="638.40" font-size="7.3" fill="#c23a48" textLength="10.60" lengthAdjust="spacingAndGlyphs" stroke="#c23a48" stroke-width="0.18">WT</text>
<text x="280.00" y="648.60" font-size="7.3" fill="#4a62a6" textLength="40.60" lengthAdjust="spacingAndGlyphs" stroke="#4a62a6" stroke-width="0.18">β-cateninKO</text>
<text x="278.30" y="660.70" font-size="7.3" fill="#62b455" textLength="31.50" lengthAdjust="spacingAndGlyphs" stroke="#62b455" stroke-width="0.18">Hoxa9KO</text>
<text x="295.00" y="670.60" font-size="7.3" fill="#222222" textLength="16.00" lengthAdjust="spacingAndGlyphs" stroke="#222222" stroke-width="0.18">dKO</text>
<text x="279.40" y="680.90" font-size="7.3" fill="#7c4a98" textLength="30.60" lengthAdjust="spacingAndGlyphs" stroke="#7c4a98" stroke-width="0.18">Prmt1KO</text>
<line x1="339.80" y1="687.60" x2="491.80" y2="687.60" stroke="#3a3a8a" stroke-width="0.7"/>
<polyline points="345.00,686.50 343.80,687.60 345.00,688.70" fill="none" stroke="#3a3a8a" stroke-width="0.45"/>
<polyline points="352.00,686.50 350.80,687.60 352.00,688.70" fill="none" stroke="#3a3a8a" stroke-width="0.45"/>
<polyline points="359.00,686.50 357.80,687.60 359.00,688.70" fill="none" stroke="#3a3a8a" stroke-width="0.45"/>
<polyline points="366.00,686.50 364.80,687.60 366.00,688.70" fill="none" stroke="#3a3a8a" stroke-width="0.45"/>
<polyline points="373.00,686.50 371.80,687.60 373.00,688.70" fill="none" stroke="#3a3a8a" stroke-width="0.45"/>
<polyline points="380.00,686.50 378.80,687.60 380.00,688.70" fill="none" stroke="#3a3a8a" stroke-width="0.45"/>
<polyline points="387.00,686.50 385.80,687.60 387.00,688.70" fill="none" stroke="#3a3a8a" stroke-width="0.45"/>
<polyline points="394.00,686.50 392.80,687.60 394.00,688.70" fill="none" stroke="#3a3a8a" stroke-width="0.45"/>
<polyline points="401.00,686.50 399.80,687.60 401.00,688.70" fill="none" stroke="#3a3a8a" stroke-width="0.45"/>
<polyline points="408.00,686.50 406.80,687.60 408.00,688.70" fill="none" stroke="#3a3a8a" stroke-width="0.45"/>
<polyline points="415.00,686.50 413.80,687.60 415.00,688.70" fill="none" stroke="#3a3a8a" stroke-width="0.45"/>
<polyline points="422.00,686.50 420.80,687.60 422.00,688.70" fill="none" stroke="#3a3a8a" stroke-width="0.45"/>
<polyline points="429.00,686.50 427.80,687.60 429.00,688.70" fill="none" stroke="#3a3a8a" stroke-width="0.45"/>
<polyline points="436.00,686.50 434.80,687.60 436.00,688.70" fill="none" stroke="#3a3a8a" stroke-width="0.45"/>
<polyline points="443.00,686.50 441.80,687.60 443.00,688.70" fill="none" stroke="#3a3a8a" stroke-width="0.45"/>
<polyline points="450.00,686.50 448.80,687.60 450.00,688.70" fill="none" stroke="#3a3a8a" stroke-width="0.45"/>
<polyline points="457.00,686.50 455.80,687.60 457.00,688.70" fill="none" stroke="#3a3a8a" stroke-width="0.45"/>
<polyline points="464.00,686.50 462.80,687.60 464.00,688.70" fill="none" stroke="#3a3a8a" stroke-width="0.45"/>
<polyline points="471.00,686.50 469.80,687.60 471.00,688.70" fill="none" stroke="#3a3a8a" stroke-width="0.45"/>
<polyline points="478.00,686.50 476.80,687.60 478.00,688.70" fill="none" stroke="#3a3a8a" stroke-width="0.45"/>
<polyline points="485.00,686.50 483.80,687.60 485.00,688.70" fill="none" stroke="#3a3a8a" stroke-width="0.45"/>
<rect x="339.80" y="686.30" width="4.20" height="2.60" fill="#34348a"/>
<rect x="347.20" y="685.90" width="1.60" height="3.40" fill="#34348a"/>
<rect x="350.40" y="685.90" width="1.60" height="3.40" fill="#34348a"/>
<rect x="361.90" y="685.90" width="1.60" height="3.40" fill="#34348a"/>
<rect x="373.30" y="685.90" width="1.60" height="3.40" fill="#34348a"/>
<rect x="378.20" y="685.90" width="1.60" height="3.40" fill="#34348a"/>
<rect x="380.80" y="685.90" width="1.60" height="3.40" fill="#34348a"/>
<rect x="383.10" y="685.90" width="1.60" height="3.40" fill="#34348a"/>
<rect x="393.60" y="685.90" width="1.60" height="3.40" fill="#34348a"/>
<rect x="401.10" y="685.90" width="1.60" height="3.40" fill="#34348a"/>
<rect x="420.70" y="685.90" width="1.60" height="3.40" fill="#34348a"/>
<rect x="424.00" y="685.90" width="1.60" height="3.40" fill="#34348a"/>
<rect x="433.10" y="685.90" width="1.60" height="3.40" fill="#34348a"/>
<rect x="436.40" y="685.90" width="1.60" height="3.40" fill="#34348a"/>
<rect x="477.90" y="685.90" width="1.60" height="3.40" fill="#34348a"/>
<rect x="490.70" y="685.90" width="1.60" height="3.40" fill="#34348a"/>
<text x="483.70" y="700.80" font-size="7.3" fill="#333" textLength="20.20" lengthAdjust="spacingAndGlyphs" stroke="#333" stroke-width="0.18">Mcm2</text>
<line x1="269.40" y1="708.00" x2="512.20" y2="708.00" stroke="#e4e4e4" stroke-width="0.8"/>
<line x1="269.40" y1="718.80" x2="512.20" y2="718.80" stroke="#e6e6e6" stroke-width="0.6"/>
<line x1="269.40" y1="730.20" x2="512.20" y2="730.20" stroke="#8486c4" stroke-width="0.6"/>
<line x1="269.40" y1="741.00" x2="512.20" y2="741.00" stroke="#e6e6e6" stroke-width="0.6"/>
<line x1="269.40" y1="751.70" x2="512.20" y2="751.70" stroke="#e6e6e6" stroke-width="0.6"/>
<line x1="269.40" y1="763.30" x2="512.20" y2="763.30" stroke="#e6e6e6" stroke-width="0.6"/>
<line x1="269.40" y1="769.50" x2="512.20" y2="769.50" stroke="#ececec" stroke-width="0.7"/>
<line x1="269.40" y1="708.00" x2="269.40" y2="769.50" stroke="#e6e6e6" stroke-width="0.7"/>
<line x1="512.20" y1="708.00" x2="512.20" y2="769.50" stroke="#e6e6e6" stroke-width="0.7"/>
<text x="270.60" y="710.70" font-size="2.6" fill="#777" textLength="9.50" lengthAdjust="spacingAndGlyphs" stroke="#777" stroke-width="0.18">0 - 2000</text>
<text x="270.60" y="721.50" font-size="2.6" fill="#777" textLength="9.50" lengthAdjust="spacingAndGlyphs" stroke="#777" stroke-width="0.18">0 - 2000</text>
<text x="270.60" y="732.90" font-size="2.6" fill="#777" textLength="9.50" lengthAdjust="spacingAndGlyphs" stroke="#777" stroke-width="0.18">0 - 2000</text>
<text x="270.60" y="743.70" font-size="2.6" fill="#777" textLength="9.50" lengthAdjust="spacingAndGlyphs" stroke="#777" stroke-width="0.18">0 - 2000</text>
<text x="270.60" y="754.40" font-size="2.6" fill="#777" textLength="9.50" lengthAdjust="spacingAndGlyphs" stroke="#777" stroke-width="0.18">0 - 2000</text>
<polygon points="479.20,718.50 481.41,716.08 482.60,714.10 483.79,716.30 486.00,718.50" fill="#c0402e"/>
<polygon points="463.00,718.50 464.04,718.06 464.60,717.70 465.16,718.10 466.20,718.50" fill="#c0402e"/>
<polygon points="474.00,718.50 475.04,718.06 475.60,717.70 476.16,718.10 477.20,718.50" fill="#c0402e"/>
<polygon points="491.50,718.50 492.54,718.06 493.10,717.70 493.66,718.10 494.70,718.50" fill="#c0402e"/>
<polygon points="505.00,718.50 506.04,718.06 506.60,717.70 507.16,718.10 508.20,718.50" fill="#c0402e"/>
<polygon points="387.00,718.50 388.04,718.00 388.60,717.60 389.16,718.05 390.20,718.50" fill="#c0402e"/>
<polygon points="367.00,718.50 368.04,718.00 368.60,717.60 369.16,718.05 370.20,718.50" fill="#c0402e"/>
<polygon points="346.00,718.50 347.04,718.06 347.60,717.70 348.16,718.10 349.20,718.50" fill="#c0402e"/>
<rect x="444.30" y="718.06" width="1.22" height="0.44" fill="#d9a090"/>
<rect x="475.93" y="717.77" width="1.12" height="0.73" fill="#d9a090"/>
<rect x="434.22" y="717.95" width="1.13" height="0.55" fill="#d9a090"/>
<rect x="330.73" y="717.83" width="1.20" height="0.67" fill="#d9a090"/>
<rect x="365.16" y="717.95" width="1.34" height="0.55" fill="#d9a090"/>
<rect x="397.20" y="717.72" width="1.57" height="0.78" fill="#d9a090"/>
<rect x="475.23" y="718.06" width="0.68" height="0.44" fill="#d9a090"/>
<rect x="366.48" y="717.96" width="1.30" height="0.54" fill="#d9a090"/>
<rect x="472.96" y="717.87" width="1.24" height="0.63" fill="#d9a090"/>
<rect x="422.76" y="718.09" width="1.13" height="0.41" fill="#d9a090"/>
<polygon points="480.60,729.90 481.90,726.82 482.60,724.30 483.30,727.10 484.60,729.90" fill="#3a3f98"/>
<polygon points="449.00,729.90 450.04,729.46 450.60,729.10 451.16,729.50 452.20,729.90" fill="#3a3f98"/>
<polygon points="467.00,729.90 468.04,729.41 468.60,729.00 469.16,729.45 470.20,729.90" fill="#3a3f98"/>
<rect x="367.31" y="729.42" width="0.61" height="0.48" fill="#b8b8d0"/>
<rect x="446.00" y="729.32" width="0.67" height="0.58" fill="#b8b8d0"/>
<rect x="432.54" y="729.50" width="0.95" height="0.40" fill="#b8b8d0"/>
<rect x="357.72" y="729.33" width="1.33" height="0.57" fill="#b8b8d0"/>
<rect x="488.80" y="729.46" width="1.32" height="0.44" fill="#b8b8d0"/>
<rect x="453.77" y="729.40" width="1.52" height="0.50" fill="#b8b8d0"/>
<polygon points="480.20,740.70 481.76,738.61 482.60,736.90 483.44,738.80 485.00,740.70" fill="#5cae4f"/>
<rect x="440.51" y="740.24" width="1.32" height="0.46" fill="#bcd8b8"/>
<rect x="414.96" y="740.26" width="1.22" height="0.44" fill="#bcd8b8"/>
<rect x="337.99" y="740.21" width="1.16" height="0.49" fill="#bcd8b8"/>
<rect x="329.85" y="740.17" width="0.69" height="0.53" fill="#bcd8b8"/>
<rect x="444.92" y="740.23" width="0.63" height="0.47" fill="#bcd8b8"/>
<rect x="507.08" y="740.29" width="0.76" height="0.41" fill="#bcd8b8"/>
<polygon points="476.60,751.40 479.00,750.20 481.40,749.80 482.60,749.40 484.40,750.00 486.80,750.40 488.60,751.40" fill="#111111"/>
<rect x="396.10" y="750.75" width="1.66" height="0.65" fill="#111111"/>
<rect x="388.91" y="750.42" width="1.69" height="0.98" fill="#111111"/>
<rect x="348.13" y="750.79" width="1.99" height="0.61" fill="#111111"/>
<rect x="378.69" y="750.48" width="2.43" height="0.92" fill="#111111"/>
<rect x="283.32" y="750.72" width="1.73" height="0.68" fill="#111111"/>
<rect x="293.65" y="750.25" width="1.40" height="1.15" fill="#111111"/>
<rect x="353.15" y="750.81" width="2.53" height="0.59" fill="#111111"/>
<rect x="291.96" y="750.18" width="2.01" height="1.22" fill="#111111"/>
<rect x="484.95" y="750.30" width="1.29" height="1.10" fill="#111111"/>
<rect x="406.13" y="750.08" width="0.68" height="1.32" fill="#111111"/>
<rect x="474.17" y="750.33" width="0.99" height="1.07" fill="#111111"/>
<rect x="500.66" y="750.70" width="0.61" height="0.70" fill="#111111"/>
<rect x="342.07" y="750.48" width="0.66" height="0.92" fill="#111111"/>
<rect x="415.61" y="750.56" width="1.27" height="0.84" fill="#111111"/>
<rect x="452.79" y="750.38" width="2.53" height="1.02" fill="#111111"/>
<rect x="478.65" y="750.14" width="2.47" height="1.26" fill="#111111"/>
<rect x="474.17" y="750.51" width="0.74" height="0.89" fill="#111111"/>
<rect x="382.80" y="750.38" width="2.54" height="1.02" fill="#111111"/>
<rect x="429.71" y="750.43" width="0.77" height="0.97" fill="#111111"/>
<rect x="428.93" y="750.96" width="0.89" height="0.44" fill="#111111"/>
<rect x="291.20" y="750.27" width="2.48" height="1.13" fill="#111111"/>
<rect x="416.18" y="750.91" width="2.08" height="0.49" fill="#111111"/>
<rect x="320.96" y="750.29" width="1.95" height="1.11" fill="#111111"/>
<rect x="495.68" y="750.83" width="1.07" height="0.57" fill="#111111"/>
<rect x="353.80" y="750.92" width="2.49" height="0.48" fill="#111111"/>
<rect x="422.61" y="750.89" width="1.56" height="0.51" fill="#111111"/>
<rect x="303.80" y="750.04" width="1.32" height="1.36" fill="#111111"/>
<rect x="281.98" y="750.26" width="1.26" height="1.14" fill="#111111"/>
<rect x="428.72" y="750.22" width="0.75" height="1.18" fill="#111111"/>
<rect x="405.32" y="750.05" width="1.05" height="1.35" fill="#111111"/>
<rect x="337.96" y="750.33" width="0.72" height="1.07" fill="#111111"/>
<rect x="467.34" y="750.20" width="2.49" height="1.20" fill="#111111"/>
<rect x="470.39" y="750.42" width="1.52" height="0.98" fill="#111111"/>
<rect x="402.98" y="750.36" width="2.55" height="1.04" fill="#111111"/>
<rect x="315.96" y="750.51" width="1.50" height="0.89" fill="#111111"/>
<rect x="337.10" y="750.84" width="2.17" height="0.56" fill="#111111"/>
<rect x="414.07" y="750.31" width="1.11" height="1.09" fill="#111111"/>
<rect x="390.17" y="750.84" width="0.90" height="0.56" fill="#111111"/>
<rect x="311.98" y="750.35" width="2.30" height="1.05" fill="#111111"/>
<rect x="410.98" y="750.22" width="0.76" height="1.18" fill="#111111"/>
<rect x="398.94" y="750.86" width="1.65" height="0.54" fill="#111111"/>
<rect x="337.85" y="750.75" width="2.44" height="0.65" fill="#111111"/>
<polygon points="480.40,763.00 481.83,761.96 482.60,761.10 483.37,762.05 484.80,763.00" fill="#4a3c96"/>
<rect x="426.92" y="762.55" width="1.09" height="0.45" fill="#b8b8d0"/>
<rect x="379.97" y="762.44" width="1.00" height="0.56" fill="#b8b8d0"/>
<rect x="479.16" y="762.48" width="1.25" height="0.52" fill="#b8b8d0"/>
<rect x="437.57" y="762.48" width="0.66" height="0.52" fill="#b8b8d0"/>
<rect x="469.93" y="762.48" width="0.82" height="0.52" fill="#b8b8d0"/>
<rect x="417.76" y="762.41" width="1.25" height="0.59" fill="#b8b8d0"/>
<text x="304.40" y="716.60" font-size="7.3" fill="#c23a48" textLength="12.10" lengthAdjust="spacingAndGlyphs" stroke="#c23a48" stroke-width="0.18">WT</text>
<text x="284.20" y="728.20" font-size="7.3" fill="#4a62a6" textLength="40.40" lengthAdjust="spacingAndGlyphs" stroke="#4a62a6" stroke-width="0.18">β-cateninKO</text>
<text x="282.90" y="739.50" font-size="7.3" fill="#62b455" textLength="31.00" lengthAdjust="spacingAndGlyphs" stroke="#62b455" stroke-width="0.18">Hoxa9KO</text>
<text x="299.00" y="749.20" font-size="7.3" fill="#222222" textLength="15.00" lengthAdjust="spacingAndGlyphs" stroke="#222222" stroke-width="0.18">dKO</text>
<text x="284.20" y="761.80" font-size="7.3" fill="#7c4a98" textLength="29.70" lengthAdjust="spacingAndGlyphs" stroke="#7c4a98" stroke-width="0.18">Prmt1KO</text>
<line x1="283.50" y1="766.20" x2="482.60" y2="766.20" stroke="#3a3a8a" stroke-width="0.7"/>
<polyline points="288.70,765.10 287.50,766.20 288.70,767.30" fill="none" stroke="#3a3a8a" stroke-width="0.45"/>
<polyline points="295.70,765.10 294.50,766.20 295.70,767.30" fill="none" stroke="#3a3a8a" stroke-width="0.45"/>
<polyline points="302.70,765.10 301.50,766.20 302.70,767.30" fill="none" stroke="#3a3a8a" stroke-width="0.45"/>
<polyline points="309.70,765.10 308.50,766.20 309.70,767.30" fill="none" stroke="#3a3a8a" stroke-width="0.45"/>
<polyline points="316.70,765.10 315.50,766.20 316.70,767.30" fill="none" stroke="#3a3a8a" stroke-width="0.45"/>
<polyline points="323.70,765.10 322.50,766.20 323.70,767.30" fill="none" stroke="#3a3a8a" stroke-width="0.45"/>
<polyline points="330.70,765.10 329.50,766.20 330.70,767.30" fill="none" stroke="#3a3a8a" stroke-width="0.45"/>
<polyline points="337.70,765.10 336.50,766.20 337.70,767.30" fill="none" stroke="#3a3a8a" stroke-width="0.45"/>
<polyline points="344.70,765.10 343.50,766.20 344.70,767.30" fill="none" stroke="#3a3a8a" stroke-width="0.45"/>
<polyline points="351.70,765.10 350.50,766.20 351.70,767.30" fill="none" stroke="#3a3a8a" stroke-width="0.45"/>
<polyline points="358.70,765.10 357.50,766.20 358.70,767.30" fill="none" stroke="#3a3a8a" stroke-width="0.45"/>
<polyline points="365.70,765.10 364.50,766.20 365.70,767.30" fill="none" stroke="#3a3a8a" stroke-width="0.45"/>
<polyline points="372.70,765.10 371.50,766.20 372.70,767.30" fill="none" stroke="#3a3a8a" stroke-width="0.45"/>
<polyline points="379.70,765.10 378.50,766.20 379.70,767.30" fill="none" stroke="#3a3a8a" stroke-width="0.45"/>
<polyline points="386.70,765.10 385.50,766.20 386.70,767.30" fill="none" stroke="#3a3a8a" stroke-width="0.45"/>
<polyline points="393.70,765.10 392.50,766.20 393.70,767.30" fill="none" stroke="#3a3a8a" stroke-width="0.45"/>
<polyline points="400.70,765.10 399.50,766.20 400.70,767.30" fill="none" stroke="#3a3a8a" stroke-width="0.45"/>
<polyline points="407.70,765.10 406.50,766.20 407.70,767.30" fill="none" stroke="#3a3a8a" stroke-width="0.45"/>
<polyline points="414.70,765.10 413.50,766.20 414.70,767.30" fill="none" stroke="#3a3a8a" stroke-width="0.45"/>
<polyline points="421.70,765.10 420.50,766.20 421.70,767.30" fill="none" stroke="#3a3a8a" stroke-width="0.45"/>
<polyline points="428.70,765.10 427.50,766.20 428.70,767.30" fill="none" stroke="#3a3a8a" stroke-width="0.45"/>
<polyline points="435.70,765.10 434.50,766.20 435.70,767.30" fill="none" stroke="#3a3a8a" stroke-width="0.45"/>
<polyline points="442.70,765.10 441.50,766.20 442.70,767.30" fill="none" stroke="#3a3a8a" stroke-width="0.45"/>
<polyline points="449.70,765.10 448.50,766.20 449.70,767.30" fill="none" stroke="#3a3a8a" stroke-width="0.45"/>
<polyline points="456.70,765.10 455.50,766.20 456.70,767.30" fill="none" stroke="#3a3a8a" stroke-width="0.45"/>
<polyline points="463.70,765.10 462.50,766.20 463.70,767.30" fill="none" stroke="#3a3a8a" stroke-width="0.45"/>
<polyline points="470.70,765.10 469.50,766.20 470.70,767.30" fill="none" stroke="#3a3a8a" stroke-width="0.45"/>
<polyline points="477.70,765.10 476.50,766.20 477.70,767.30" fill="none" stroke="#3a3a8a" stroke-width="0.45"/>
<rect x="283.50" y="764.90" width="8.50" height="2.60" fill="#34348a"/>
<rect x="312.20" y="764.50" width="1.60" height="3.40" fill="#34348a"/>
<rect x="333.50" y="764.50" width="1.60" height="3.40" fill="#34348a"/>
<rect x="354.70" y="764.50" width="1.60" height="3.40" fill="#34348a"/>
<rect x="375.90" y="764.50" width="1.60" height="3.40" fill="#34348a"/>
<rect x="397.10" y="764.50" width="1.60" height="3.40" fill="#34348a"/>
<rect x="418.20" y="764.50" width="1.60" height="3.40" fill="#34348a"/>
<rect x="439.50" y="764.50" width="1.60" height="3.40" fill="#34348a"/>
<rect x="452.20" y="764.50" width="1.60" height="3.40" fill="#34348a"/>
<rect x="473.40" y="764.50" width="1.60" height="3.40" fill="#34348a"/>
<rect x="481.20" y="764.50" width="1.60" height="3.40" fill="#34348a"/>
<text x="469.70" y="779.90" font-size="7.3" fill="#333" textLength="18.50" lengthAdjust="spacingAndGlyphs" stroke="#333" stroke-width="0.18">Pold3</text>
<rect x="0.5" y="0.5" width="519" height="792" fill="none" stroke="#3a3a3a" stroke-width="1.2"/>
</svg>
</body></html>
